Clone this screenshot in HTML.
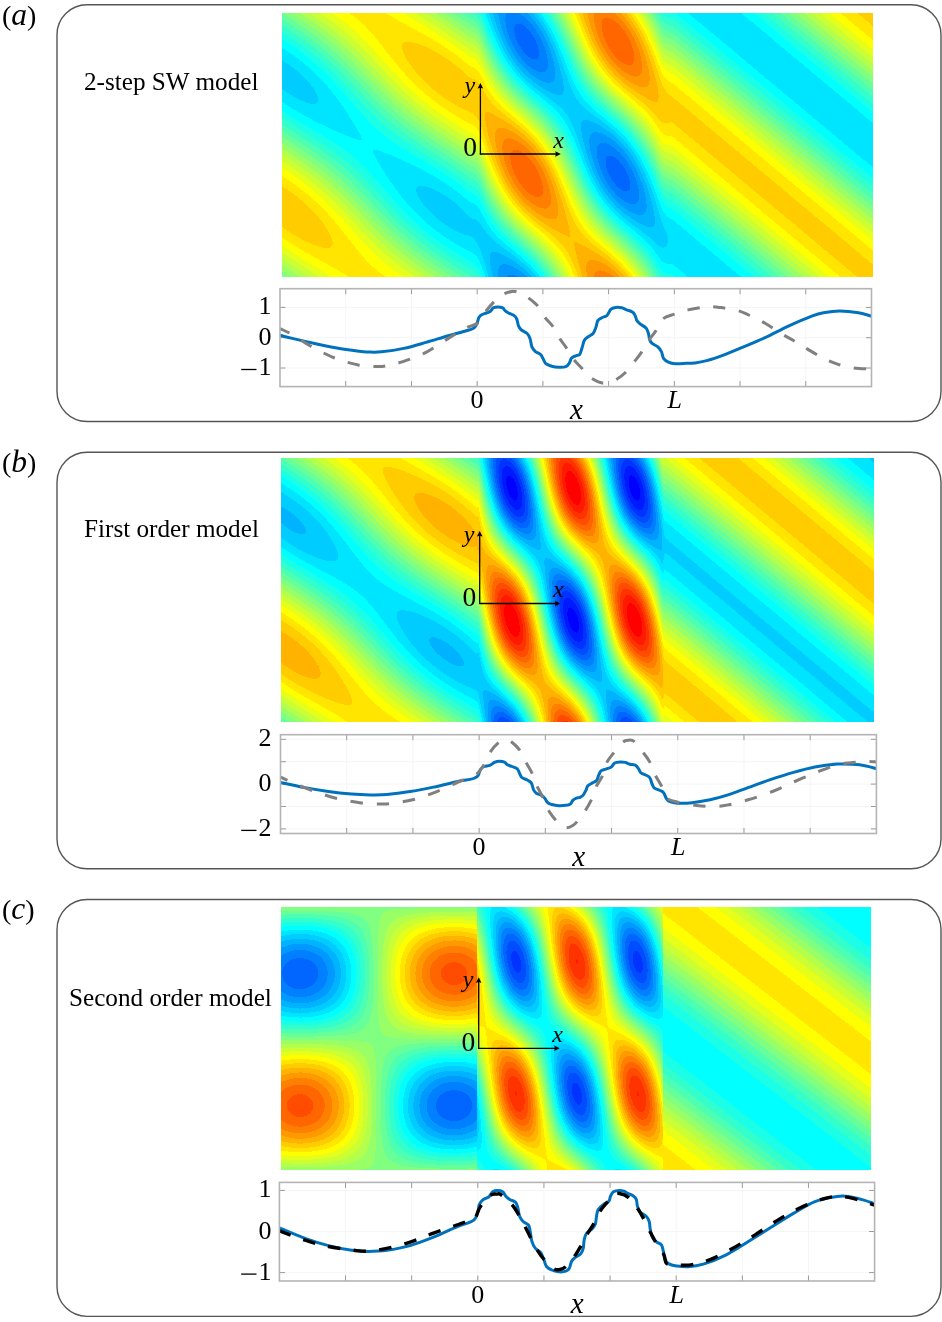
<!DOCTYPE html>
<html><head><meta charset="utf-8">
<style>
html,body{margin:0;padding:0;background:#fff;width:942px;height:1322px;overflow:hidden;}
body{position:relative;font-family:"Liberation Serif",serif;color:#000;}
.t{position:absolute;white-space:nowrap;line-height:1;}
canvas{position:absolute;display:block;}
svg{position:absolute;left:0;top:0;}
.lbl{font-size:31.5px;}
.pp{font-size:28px;}
.mdl{font-size:25.2px;}
#fa{background-image:linear-gradient(#80ff80 0px,#4dffb3 11px,#1affe5 22px,#00ffff 33px,#00e5ff 44px,#00ccff 55px,#00ccff 66px,#00ccff 77px,#00e5ff 88px,#00ffff 99px,#33ffcc 110px,#66ff99 121px,#99ff66 132px,#b3ff4c 143px,#e5ff1a 154px,#ffff00 165px,#ffcc00 176px,#ffcc00 187px,#ffcc00 198px,#ffcc00 209px,#ffe500 220px,#ffff00 231px,#ccff33 242px,#b3ff4c 253px,#80ff80 263px),linear-gradient(#99ff66 0px,#66ff99 11px,#33ffcc 22px,#1affe5 33px,#00e5ff 44px,#00e5ff 55px,#00ccff 66px,#00ccff 77px,#00e5ff 88px,#00ffff 99px,#1affe5 110px,#4dffb3 121px,#80ff80 132px,#99ff66 143px,#ccff33 154px,#ffff00 165px,#ffe500 176px,#ffcc00 187px,#ffcc00 198px,#ffcc00 209px,#ffcc00 220px,#ffe500 231px,#e5ff1a 242px,#ccff33 253px,#99ff66 263px),linear-gradient(#b3ff4c 0px,#80ff80 11px,#4dffb3 22px,#1affe5 33px,#00ffff 44px,#00e5ff 55px,#00ccff 66px,#00ccff 77px,#00e5ff 88px,#00e5ff 99px,#00ffff 110px,#33ffcc 121px,#66ff99 132px,#99ff66 143px,#b3ff4c 154px,#e5ff1a 165px,#ffff00 176px,#ffe500 187px,#ffcc00 198px,#ffcc00 209px,#ffcc00 220px,#ffe500 231px,#ffff00 242px,#ccff33 253px,#b3ff4c 263px),linear-gradient(#ccff33 0px,#99ff66 11px,#66ff99 22px,#33ffcc 33px,#1affe5 44px,#00ffff 55px,#00e5ff 66px,#00ccff 77px,#00ccff 88px,#00e5ff 99px,#00ffff 110px,#1affe5 121px,#4dffb3 132px,#80ff80 143px,#99ff66 154px,#ccff33 165px,#ffff00 176px,#ffe500 187px,#ffcc00 198px,#ffcc00 209px,#ffcc00 220px,#ffe500 231px,#ffff00 242px,#e5ff1a 253px,#ccff33 263px),linear-gradient(#ccff33 0px,#b3ff4c 11px,#80ff80 22px,#4dffb3 33px,#33ffcc 44px,#00ffff 55px,#00e5ff 66px,#00e5ff 77px,#00e5ff 88px,#00e5ff 99px,#00ffff 110px,#1affe5 121px,#33ffcc 132px,#66ff99 143px,#80ff80 154px,#b3ff4c 165px,#e5ff1a 176px,#ffff00 187px,#ffe500 198px,#ffcc00 209px,#ffcc00 220px,#ffcc00 231px,#ffe500 242px,#ffff00 253px,#ccff33 263px),linear-gradient(#e5ff1a 0px,#ccff33 11px,#99ff66 22px,#66ff99 33px,#4dffb3 44px,#1affe5 55px,#00ffff 66px,#00e5ff 77px,#00e5ff 88px,#00e5ff 99px,#00e5ff 110px,#00ffff 121px,#1affe5 132px,#4dffb3 143px,#66ff99 154px,#99ff66 165px,#ccff33 176px,#e5ff1a 187px,#ffff00 198px,#ffe500 209px,#ffcc00 220px,#ffcc00 231px,#ffe500 242px,#ffff00 253px,#e5ff1a 263px),linear-gradient(#ffff00 0px,#ccff33 11px,#b3ff4c 22px,#80ff80 33px,#66ff99 44px,#33ffcc 55px,#1affe5 66px,#00ffff 77px,#00e5ff 88px,#00e5ff 99px,#00e5ff 110px,#00ffff 121px,#1affe5 132px,#33ffcc 143px,#66ff99 154px,#80ff80 165px,#b3ff4c 176px,#ccff33 187px,#ffff00 198px,#ffe500 209px,#ffe500 220px,#ffe500 231px,#ffe500 242px,#ffe500 253px,#ffff00 263px),linear-gradient(#ffff00 0px,#e5ff1a 11px,#ccff33 22px,#99ff66 33px,#80ff80 44px,#4dffb3 55px,#33ffcc 66px,#1affe5 77px,#00ffff 88px,#00e5ff 99px,#00e5ff 110px,#00ffff 121px,#00ffff 132px,#1affe5 143px,#4dffb3 154px,#66ff99 165px,#99ff66 176px,#b3ff4c 187px,#e5ff1a 198px,#ffff00 209px,#ffe500 220px,#ffe500 231px,#ffe500 242px,#ffe500 253px,#ffff00 263px),linear-gradient(#ffe500 0px,#ffff00 11px,#e5ff1a 22px,#b3ff4c 33px,#99ff66 44px,#66ff99 55px,#4dffb3 66px,#1affe5 77px,#00ffff 88px,#00ffff 99px,#00e5ff 110px,#00e5ff 121px,#00ffff 132px,#1affe5 143px,#33ffcc 154px,#4dffb3 165px,#80ff80 176px,#99ff66 187px,#ccff33 198px,#e5ff1a 209px,#ffff00 220px,#ffe500 231px,#ffe500 242px,#ffe500 253px,#ffe500 263px),linear-gradient(#ffe500 0px,#ffff00 11px,#e5ff1a 22px,#ccff33 33px,#b3ff4c 44px,#80ff80 55px,#66ff99 66px,#33ffcc 77px,#1affe5 88px,#00ffff 99px,#00ffff 110px,#00e5ff 121px,#00ffff 132px,#00ffff 143px,#1affe5 154px,#33ffcc 165px,#66ff99 176px,#80ff80 187px,#b3ff4c 198px,#ccff33 209px,#e5ff1a 220px,#ffff00 231px,#ffe500 242px,#ffe500 253px,#ffe500 263px),linear-gradient(#ffe500 0px,#ffe500 11px,#ffff00 22px,#e5ff1a 33px,#ccff33 44px,#99ff66 55px,#80ff80 66px,#66ff99 77px,#33ffcc 88px,#1affe5 99px,#00ffff 110px,#00ffff 121px,#00ffff 132px,#00ffff 143px,#00ffff 154px,#1affe5 165px,#4dffb3 176px,#66ff99 187px,#80ff80 198px,#b3ff4c 209px,#ccff33 220px,#e5ff1a 231px,#ffff00 242px,#ffe500 253px,#ffe500 263px),linear-gradient(#ffe500 0px,#ffe500 11px,#ffe500 22px,#ffff00 33px,#e5ff1a 44px,#ccff33 55px,#99ff66 66px,#80ff80 77px,#4dffb3 88px,#33ffcc 99px,#1affe5 110px,#00ffff 121px,#00ffff 132px,#00ffff 143px,#00ffff 154px,#1affe5 165px,#33ffcc 176px,#4dffb3 187px,#66ff99 198px,#99ff66 209px,#b3ff4c 220px,#e5ff1a 231px,#ffff00 242px,#ffff00 253px,#ffe500 263px),linear-gradient(#ffe500 0px,#ffe500 11px,#ffe500 22px,#ffff00 33px,#ffff00 44px,#e5ff1a 55px,#b3ff4c 66px,#99ff66 77px,#66ff99 88px,#4dffb3 99px,#1affe5 110px,#00ffff 121px,#00ffff 132px,#00e5ff 143px,#00e5ff 154px,#00ffff 165px,#1affe5 176px,#33ffcc 187px,#4dffb3 198px,#80ff80 209px,#99ff66 220px,#ccff33 231px,#e5ff1a 242px,#ffff00 253px,#ffe500 263px),linear-gradient(#ffff00 0px,#ffe500 11px,#ffe500 22px,#ffe500 33px,#ffff00 44px,#ffff00 55px,#ccff33 66px,#b3ff4c 77px,#80ff80 88px,#66ff99 99px,#33ffcc 110px,#1affe5 121px,#00ffff 132px,#00e5ff 143px,#00e5ff 154px,#00e5ff 165px,#00ffff 176px,#1affe5 187px,#33ffcc 198px,#66ff99 209px,#80ff80 220px,#b3ff4c 231px,#ccff33 242px,#e5ff1a 253px,#ffff00 263px),linear-gradient(#ffff00 0px,#ffe500 11px,#ffe500 22px,#ffe500 33px,#ffe500 44px,#ffff00 55px,#e5ff1a 66px,#ccff33 77px,#99ff66 88px,#80ff80 99px,#4dffb3 110px,#33ffcc 121px,#1affe5 132px,#00ffff 143px,#00e5ff 154px,#00e5ff 165px,#00e5ff 176px,#00ffff 187px,#1affe5 198px,#33ffcc 209px,#66ff99 220px,#99ff66 231px,#b3ff4c 242px,#e5ff1a 253px,#ffff00 263px),linear-gradient(#e5ff1a 0px,#ffff00 11px,#ffe500 22px,#ffcc00 33px,#ffcc00 44px,#ffe500 55px,#ffff00 66px,#e5ff1a 77px,#b3ff4c 88px,#99ff66 99px,#66ff99 110px,#4dffb3 121px,#1affe5 132px,#00ffff 143px,#00e5ff 154px,#00e5ff 165px,#00e5ff 176px,#00e5ff 187px,#00ffff 198px,#1affe5 209px,#4dffb3 220px,#80ff80 231px,#99ff66 242px,#ccff33 253px,#e5ff1a 263px),linear-gradient(#e5ff1a 0px,#ffff00 11px,#ffe500 22px,#ffcc00 33px,#ffcc00 44px,#ffcc00 55px,#ffe500 66px,#ffff00 77px,#ccff33 88px,#b3ff4c 99px,#80ff80 110px,#4dffb3 121px,#33ffcc 132px,#00ffff 143px,#00e5ff 154px,#00e5ff 165px,#00e5ff 176px,#00e5ff 187px,#00ffff 198px,#1affe5 209px,#33ffcc 220px,#66ff99 231px,#80ff80 242px,#b3ff4c 253px,#e5ff1a 263px),linear-gradient(#ccff33 0px,#e5ff1a 11px,#ffe500 22px,#ffcc00 33px,#ffcc00 44px,#ffcc00 55px,#ffe500 66px,#ffe500 77px,#e5ff1a 88px,#ccff33 99px,#99ff66 110px,#66ff99 121px,#4dffb3 132px,#1affe5 143px,#00ffff 154px,#00e5ff 165px,#00ccff 176px,#00ccff 187px,#00e5ff 198px,#00ffff 209px,#1affe5 220px,#4dffb3 231px,#66ff99 242px,#99ff66 253px,#ccff33 263px),linear-gradient(#b3ff4c 0px,#e5ff1a 11px,#ffff00 22px,#ffe500 33px,#ffcc00 44px,#ffcc00 55px,#ffcc00 66px,#ffe500 77px,#ffff00 88px,#e5ff1a 99px,#b3ff4c 110px,#80ff80 121px,#4dffb3 132px,#33ffcc 143px,#00ffff 154px,#00e5ff 165px,#00ccff 176px,#00ccff 187px,#00ccff 198px,#00e5ff 209px,#00ffff 220px,#33ffcc 231px,#4dffb3 242px,#80ff80 253px,#b3ff4c 263px),linear-gradient(#99ff66 0px,#ccff33 11px,#ffff00 22px,#ffe500 33px,#ffcc00 44px,#ffcc00 55px,#ffcc00 66px,#ffcc00 77px,#ffe500 88px,#e5ff1a 99px,#ccff33 110px,#99ff66 121px,#66ff99 132px,#33ffcc 143px,#1affe5 154px,#00ffff 165px,#00e5ff 176px,#00ccff 187px,#00ccff 198px,#00e5ff 209px,#00ffff 220px,#1affe5 231px,#4dffb3 242px,#66ff99 253px,#99ff66 263px),linear-gradient(#80ff80 0px,#b3ff4c 11px,#e5ff1a 22px,#ffff00 33px,#ffe500 44px,#ffcc00 55px,#ffcc00 66px,#ffcc00 77px,#ffe500 88px,#ffff00 99px,#e5ff1a 110px,#b3ff4c 121px,#80ff80 132px,#4dffb3 143px,#33ffcc 154px,#00ffff 165px,#00e5ff 176px,#00ccff 187px,#00ccff 198px,#00ccff 209px,#00e5ff 220px,#00ffff 231px,#33ffcc 242px,#4dffb3 253px,#80ff80 263px),linear-gradient(#66ff99 0px,#99ff66 11px,#ccff33 22px,#ffff00 33px,#ffe500 44px,#ffcc00 55px,#ffcc00 66px,#ffcc00 77px,#ffcc00 88px,#ffe500 99px,#e5ff1a 110px,#ccff33 121px,#99ff66 132px,#66ff99 143px,#33ffcc 154px,#1affe5 165px,#00ffff 176px,#00e5ff 187px,#00ccff 198px,#00ccff 209px,#00e5ff 220px,#00ffff 231px,#1affe5 242px,#4dffb3 253px,#66ff99 263px),linear-gradient(#66ff99 0px,#80ff80 11px,#b3ff4c 22px,#e5ff1a 33px,#ffff00 44px,#ffe500 55px,#ffcc00 66px,#ffcc00 77px,#ffcc00 88px,#ffe500 99px,#ffff00 110px,#e5ff1a 121px,#b3ff4c 132px,#80ff80 143px,#4dffb3 154px,#33ffcc 165px,#00ffff 176px,#00e5ff 187px,#00ccff 198px,#00ccff 209px,#00ccff 220px,#00e5ff 231px,#00ffff 242px,#33ffcc 253px,#4dffb3 263px),linear-gradient(#4dffb3 0px,#66ff99 11px,#99ff66 22px,#ccff33 33px,#e5ff1a 44px,#ffe500 55px,#ffcc00 66px,#ffcc00 77px,#ffcc00 88px,#ffe500 99px,#ffe500 110px,#e5ff1a 121px,#ccff33 132px,#99ff66 143px,#66ff99 154px,#33ffcc 165px,#1affe5 176px,#00ffff 187px,#00e5ff 198px,#00ccff 209px,#00ccff 220px,#00e5ff 231px,#00ffff 242px,#1affe5 253px,#4dffb3 263px),linear-gradient(#33ffcc 0px,#4dffb3 11px,#80ff80 22px,#b3ff4c 33px,#e5ff1a 44px,#ffff00 55px,#ffe500 66px,#ffcc00 77px,#ffcc00 88px,#ffcc00 99px,#ffe500 110px,#ffff00 121px,#e5ff1a 132px,#b3ff4c 143px,#80ff80 154px,#4dffb3 165px,#33ffcc 176px,#00ffff 187px,#00e5ff 198px,#00ccff 209px,#00ccff 220px,#00ccff 231px,#00e5ff 242px,#00ffff 253px,#33ffcc 263px),linear-gradient(#00e5ff 0px,#00ffff 11px,#33ffcc 22px,#66ff99 33px,#99ff66 44px,#ccff33 55px,#ffff00 66px,#ffe500 77px,#ffcc00 88px,#ffb300 99px,#ffb300 110px,#ffcc00 121px,#ffe500 132px,#ffff00 143px,#ccff33 154px,#99ff66 165px,#66ff99 176px,#4dffb3 187px,#1affe5 198px,#00e5ff 209px,#00ccff 220px,#00ccff 231px,#00ccff 242px,#00ccff 253px,#00e5ff 263px),linear-gradient(#00b3ff 0px,#00ccff 11px,#00e5ff 22px,#1affe5 33px,#4dffb3 44px,#80ff80 55px,#b3ff4c 66px,#e5ff1a 77px,#ffe500 88px,#ffcc00 99px,#ffb300 110px,#ffb300 121px,#ffb300 132px,#ffcc00 143px,#ffe500 154px,#e5ff1a 165px,#b3ff4c 176px,#80ff80 187px,#4dffb3 198px,#1affe5 209px,#00e5ff 220px,#00ccff 231px,#00b3ff 242px,#00b3ff 253px,#00b3ff 263px),linear-gradient(#0099ff 0px,#0099ff 11px,#00b3ff 22px,#00ccff 33px,#00ffff 44px,#33ffcc 55px,#80ff80 66px,#b3ff4c 77px,#e5ff1a 88px,#ffe500 99px,#ffb300 110px,#ff9900 121px,#ff8000 132px,#ff9900 143px,#ffb300 154px,#ffcc00 165px,#ffff00 176px,#ccff33 187px,#99ff66 198px,#4dffb3 209px,#1affe5 220px,#00e5ff 231px,#00b3ff 242px,#0099ff 253px,#0099ff 263px),linear-gradient(#0080ff 0px,#0080ff 11px,#0080ff 22px,#0099ff 33px,#00ccff 44px,#00ffff 55px,#33ffcc 66px,#80ff80 77px,#ccff33 88px,#ffff00 99px,#ffcc00 110px,#ff9900 121px,#ff8000 132px,#ff6600 143px,#ff8000 154px,#ff9900 165px,#ffb300 176px,#ffe500 187px,#ccff33 198px,#80ff80 209px,#4dffb3 220px,#00ffff 231px,#00ccff 242px,#0099ff 253px,#0080ff 263px),linear-gradient(#0080ff 0px,#0066ff 11px,#0066ff 22px,#0080ff 33px,#0099ff 44px,#00ccff 55px,#00ffff 66px,#4dffb3 77px,#99ff66 88px,#ccff33 99px,#ffe500 110px,#ffb300 121px,#ff8000 132px,#ff6600 143px,#ff6600 154px,#ff6600 165px,#ff8000 176px,#ffb300 187px,#ffff00 198px,#ccff33 209px,#80ff80 220px,#33ffcc 231px,#00e5ff 242px,#00b3ff 253px,#0099ff 263px),linear-gradient(#0099ff 0px,#0080ff 11px,#0066ff 22px,#0066ff 33px,#0080ff 44px,#0099ff 55px,#00ccff 66px,#1affe5 77px,#66ff99 88px,#b3ff4c 99px,#e5ff1a 110px,#ffcc00 121px,#ff9900 132px,#ff6600 143px,#ff6600 154px,#ff6600 165px,#ff6600 176px,#ff9900 187px,#ffcc00 198px,#ffff00 209px,#b3ff4c 220px,#66ff99 231px,#1affe5 242px,#00ccff 253px,#0099ff 263px),linear-gradient(#00ccff 0px,#0099ff 11px,#0080ff 22px,#0066ff 33px,#0066ff 44px,#0080ff 55px,#00b3ff 66px,#00e5ff 77px,#33ffcc 88px,#80ff80 99px,#b3ff4c 110px,#ffff00 121px,#ffb300 132px,#ff9900 143px,#ff6600 154px,#ff6600 165px,#ff6600 176px,#ff8000 187px,#ffb300 198px,#ffe500 209px,#e5ff1a 220px,#99ff66 231px,#4dffb3 242px,#00ffff 253px,#00ccff 263px),linear-gradient(#00ffff 0px,#00ccff 11px,#0099ff 22px,#0080ff 33px,#0080ff 44px,#0080ff 55px,#0099ff 66px,#00ccff 77px,#00ffff 88px,#4dffb3 99px,#80ff80 110px,#ccff33 121px,#ffff00 132px,#ffb300 143px,#ff9900 154px,#ff8000 165px,#ff6600 176px,#ff8000 187px,#ff9900 198px,#ffcc00 209px,#ffff00 220px,#ccff33 231px,#80ff80 242px,#33ffcc 253px,#00ffff 263px),linear-gradient(#33ffcc 0px,#00ffff 11px,#00ccff 22px,#00b3ff 33px,#0099ff 44px,#0099ff 55px,#0099ff 66px,#00b3ff 77px,#00e5ff 88px,#1affe5 99px,#4dffb3 110px,#99ff66 121px,#ccff33 132px,#ffff00 143px,#ffcc00 154px,#ffb300 165px,#ff9900 176px,#ff8000 187px,#ff9900 198px,#ffb300 209px,#ffcc00 220px,#ffff00 231px,#b3ff4c 242px,#80ff80 253px,#4dffb3 263px),linear-gradient(#80ff80 0px,#4dffb3 11px,#1affe5 22px,#00e5ff 33px,#00ccff 44px,#00b3ff 55px,#00b3ff 66px,#00b3ff 77px,#00ccff 88px,#00e5ff 99px,#1affe5 110px,#4dffb3 121px,#80ff80 132px,#b3ff4c 143px,#e5ff1a 154px,#ffe500 165px,#ffcc00 176px,#ffb300 187px,#ffb300 198px,#ffb300 209px,#ffcc00 220px,#ffe500 231px,#e5ff1a 242px,#b3ff4c 253px,#80ff80 263px),linear-gradient(#ccff33 0px,#99ff66 11px,#66ff99 22px,#33ffcc 33px,#00ffff 44px,#00e5ff 55px,#00ccff 66px,#00ccff 77px,#00ccff 88px,#00ccff 99px,#00e5ff 110px,#1affe5 121px,#4dffb3 132px,#66ff99 143px,#99ff66 154px,#ccff33 165px,#ffff00 176px,#ffe500 187px,#ffcc00 198px,#ffb300 209px,#ffb300 220px,#ffcc00 231px,#ffe500 242px,#ffff00 253px,#ccff33 263px),linear-gradient(#ffff00 0px,#e5ff1a 11px,#b3ff4c 22px,#80ff80 33px,#4dffb3 44px,#33ffcc 55px,#00ffff 66px,#00e5ff 77px,#00ccff 88px,#00ccff 99px,#00ccff 110px,#00e5ff 121px,#00ffff 132px,#33ffcc 143px,#4dffb3 154px,#80ff80 165px,#b3ff4c 176px,#e5ff1a 187px,#ffff00 198px,#ffcc00 209px,#ffcc00 220px,#ffb300 231px,#ffcc00 242px,#ffcc00 253px,#ffff00 263px),linear-gradient(#ffcc00 0px,#ffe500 11px,#ffff00 22px,#ccff33 33px,#99ff66 44px,#66ff99 55px,#33ffcc 66px,#00ffff 77px,#00e5ff 88px,#00ccff 99px,#00b3ff 110px,#00b3ff 121px,#00ccff 132px,#00e5ff 143px,#00ffff 154px,#33ffcc 165px,#66ff99 176px,#99ff66 187px,#ccff33 198px,#ffff00 209px,#ffe500 220px,#ffcc00 231px,#ffb300 242px,#ffb300 253px,#ffb300 263px),linear-gradient(#ff9900 0px,#ff9900 11px,#ffb300 22px,#ffe500 33px,#e5ff1a 44px,#b3ff4c 55px,#80ff80 66px,#33ffcc 77px,#00ffff 88px,#00e5ff 99px,#00b3ff 110px,#00b3ff 121px,#0099ff 132px,#00b3ff 143px,#00ccff 154px,#00e5ff 165px,#1affe5 176px,#4dffb3 187px,#99ff66 198px,#ccff33 209px,#ffff00 220px,#ffcc00 231px,#ffb300 242px,#ff9900 253px,#ff9900 263px),linear-gradient(#ff8000 0px,#ff8000 11px,#ff8000 22px,#ffb300 33px,#ffcc00 44px,#ffff00 55px,#b3ff4c 66px,#80ff80 77px,#33ffcc 88px,#00ffff 99px,#00ccff 110px,#0099ff 121px,#0080ff 132px,#0080ff 143px,#0099ff 154px,#00b3ff 165px,#00e5ff 176px,#1affe5 187px,#4dffb3 198px,#99ff66 209px,#ccff33 220px,#ffe500 231px,#ffb300 242px,#ff9900 253px,#ff8000 263px),linear-gradient(#ff8000 0px,#ff6600 11px,#ff6600 22px,#ff8000 33px,#ff9900 44px,#ffcc00 55px,#e5ff1a 66px,#b3ff4c 77px,#66ff99 88px,#1affe5 99px,#00e5ff 110px,#00b3ff 121px,#0080ff 132px,#0080ff 143px,#0066ff 154px,#0080ff 165px,#00b3ff 176px,#00e5ff 187px,#1affe5 198px,#66ff99 209px,#99ff66 220px,#e5ff1a 231px,#ffcc00 242px,#ff9900 253px,#ff8000 263px),linear-gradient(#ff8000 0px,#ff6600 11px,#ff6600 22px,#ff6600 33px,#ff8000 44px,#ff9900 55px,#ffe500 66px,#e5ff1a 77px,#99ff66 88px,#4dffb3 99px,#00ffff 110px,#00ccff 121px,#0099ff 132px,#0080ff 143px,#0066ff 154px,#0066ff 165px,#0080ff 176px,#00b3ff 187px,#00e5ff 198px,#33ffcc 209px,#66ff99 220px,#b3ff4c 231px,#ffff00 242px,#ffb300 253px,#ff9900 263px),linear-gradient(#ffb300 0px,#ff8000 11px,#ff6600 22px,#ff6600 33px,#ff6600 44px,#ff8000 55px,#ffb300 66px,#ffe500 77px,#ccff33 88px,#80ff80 99px,#33ffcc 110px,#00e5ff 121px,#00b3ff 132px,#0080ff 143px,#0066ff 154px,#0066ff 165px,#0066ff 176px,#0099ff 187px,#00b3ff 198px,#00ffff 209px,#33ffcc 220px,#80ff80 231px,#ccff33 242px,#ffe500 253px,#ffb300 263px),linear-gradient(#ffe500 0px,#ffb300 11px,#ff8000 22px,#ff6600 33px,#ff6600 44px,#ff8000 55px,#ff9900 66px,#ffcc00 77px,#ffff00 88px,#b3ff4c 99px,#66ff99 110px,#1affe5 121px,#00e5ff 132px,#00b3ff 143px,#0080ff 154px,#0080ff 165px,#0080ff 176px,#0080ff 187px,#0099ff 198px,#00ccff 209px,#1affe5 220px,#4dffb3 231px,#99ff66 242px,#e5ff1a 253px,#ffe500 263px),linear-gradient(#e5ff1a 0px,#ffe500 11px,#ffb300 22px,#ff9900 33px,#ff8000 44px,#ff8000 55px,#ff9900 66px,#ffb300 77px,#ffe500 88px,#e5ff1a 99px,#99ff66 110px,#66ff99 121px,#1affe5 132px,#00e5ff 143px,#00b3ff 154px,#0099ff 165px,#0080ff 176px,#0099ff 187px,#0099ff 198px,#00b3ff 209px,#00e5ff 220px,#33ffcc 231px,#66ff99 242px,#b3ff4c 253px,#e5ff1a 263px),linear-gradient(#99ff66 0px,#e5ff1a 11px,#ffe500 22px,#ffcc00 33px,#ffb300 44px,#ff9900 55px,#ff9900 66px,#ffb300 77px,#ffcc00 88px,#ffff00 99px,#ccff33 110px,#99ff66 121px,#66ff99 132px,#33ffcc 143px,#00ffff 154px,#00ccff 165px,#00b3ff 176px,#00b3ff 187px,#00b3ff 198px,#00b3ff 209px,#00ccff 220px,#00ffff 231px,#33ffcc 242px,#66ff99 253px,#99ff66 263px),linear-gradient(#66ff99 0px,#99ff66 11px,#ccff33 22px,#e5ff1a 33px,#ffe500 44px,#ffcc00 55px,#ffb300 66px,#ffb300 77px,#ffb300 88px,#ffcc00 99px,#ffff00 110px,#e5ff1a 121px,#b3ff4c 132px,#80ff80 143px,#4dffb3 154px,#1affe5 165px,#00e5ff 176px,#00ccff 187px,#00ccff 198px,#00b3ff 209px,#00ccff 220px,#00e5ff 231px,#00ffff 242px,#33ffcc 253px,#4dffb3 263px),linear-gradient(#1affe5 0px,#4dffb3 11px,#80ff80 22px,#b3ff4c 33px,#ccff33 44px,#ffff00 55px,#ffe500 66px,#ffcc00 77px,#ffcc00 88px,#ffcc00 99px,#ffe500 110px,#ffff00 121px,#e5ff1a 132px,#b3ff4c 143px,#99ff66 154px,#66ff99 165px,#33ffcc 176px,#1affe5 187px,#00e5ff 198px,#00e5ff 209px,#00ccff 220px,#00ccff 231px,#00e5ff 242px,#00ffff 253px,#1affe5 263px),linear-gradient(#1affe5 0px,#33ffcc 11px,#66ff99 22px,#99ff66 33px,#b3ff4c 44px,#e5ff1a 55px,#ffff00 66px,#ffe500 77px,#ffcc00 88px,#ffcc00 99px,#ffe500 110px,#ffe500 121px,#e5ff1a 132px,#ccff33 143px,#99ff66 154px,#80ff80 165px,#4dffb3 176px,#1affe5 187px,#00ffff 198px,#00e5ff 209px,#00e5ff 220px,#00e5ff 231px,#00e5ff 242px,#00ffff 253px,#1affe5 263px),linear-gradient(#00ffff 0px,#33ffcc 11px,#4dffb3 22px,#80ff80 33px,#b3ff4c 44px,#ccff33 55px,#ffff00 66px,#ffe500 77px,#ffe500 88px,#ffcc00 99px,#ffcc00 110px,#ffe500 121px,#ffff00 132px,#e5ff1a 143px,#b3ff4c 154px,#99ff66 165px,#66ff99 176px,#33ffcc 187px,#1affe5 198px,#00ffff 209px,#00e5ff 220px,#00e5ff 231px,#00e5ff 242px,#00e5ff 253px,#00ffff 263px),linear-gradient(#00ffff 0px,#1affe5 11px,#33ffcc 22px,#66ff99 33px,#99ff66 44px,#b3ff4c 55px,#e5ff1a 66px,#ffff00 77px,#ffe500 88px,#ffcc00 99px,#ffcc00 110px,#ffe500 121px,#ffe500 132px,#ffff00 143px,#ccff33 154px,#b3ff4c 165px,#80ff80 176px,#4dffb3 187px,#33ffcc 198px,#00ffff 209px,#00e5ff 220px,#00e5ff 231px,#00e5ff 242px,#00e5ff 253px,#00ffff 263px),linear-gradient(#00e5ff 0px,#00ffff 11px,#1affe5 22px,#4dffb3 33px,#66ff99 44px,#99ff66 55px,#ccff33 66px,#e5ff1a 77px,#ffe500 88px,#ffe500 99px,#ffcc00 110px,#ffcc00 121px,#ffe500 132px,#ffff00 143px,#e5ff1a 154px,#ccff33 165px,#99ff66 176px,#66ff99 187px,#4dffb3 198px,#1affe5 209px,#00ffff 220px,#00e5ff 231px,#00e5ff 242px,#00e5ff 253px,#00e5ff 263px),linear-gradient(#00e5ff 0px,#00e5ff 11px,#00ffff 22px,#33ffcc 33px,#4dffb3 44px,#80ff80 55px,#b3ff4c 66px,#ccff33 77px,#ffff00 88px,#ffe500 99px,#ffcc00 110px,#ffcc00 121px,#ffcc00 132px,#ffe500 143px,#ffff00 154px,#e5ff1a 165px,#b3ff4c 176px,#80ff80 187px,#66ff99 198px,#33ffcc 209px,#1affe5 220px,#00ffff 231px,#00e5ff 242px,#00e5ff 253px,#00e5ff 263px),linear-gradient(#00e5ff 0px,#00e5ff 11px,#00ffff 22px,#1affe5 33px,#33ffcc 44px,#66ff99 55px,#99ff66 66px,#b3ff4c 77px,#e5ff1a 88px,#ffff00 99px,#ffe500 110px,#ffcc00 121px,#ffcc00 132px,#ffe500 143px,#ffe500 154px,#e5ff1a 165px,#ccff33 176px,#99ff66 187px,#80ff80 198px,#4dffb3 209px,#1affe5 220px,#00ffff 231px,#00e5ff 242px,#00e5ff 253px,#00e5ff 263px),linear-gradient(#00e5ff 0px,#00e5ff 11px,#00e5ff 22px,#00ffff 33px,#33ffcc 44px,#4dffb3 55px,#80ff80 66px,#99ff66 77px,#ccff33 88px,#ffff00 99px,#ffe500 110px,#ffe500 121px,#ffcc00 132px,#ffcc00 143px,#ffe500 154px,#ffff00 165px,#e5ff1a 176px,#b3ff4c 187px,#99ff66 198px,#66ff99 209px,#33ffcc 220px,#1affe5 231px,#00ffff 242px,#00e5ff 253px,#00e5ff 263px),linear-gradient(#00e5ff 0px,#00e5ff 11px,#00e5ff 22px,#00ffff 33px,#1affe5 44px,#33ffcc 55px,#66ff99 66px,#80ff80 77px,#b3ff4c 88px,#e5ff1a 99px,#ffff00 110px,#ffe500 121px,#ffcc00 132px,#ffcc00 143px,#ffcc00 154px,#ffe500 165px,#ffff00 176px,#ccff33 187px,#b3ff4c 198px,#80ff80 209px,#4dffb3 220px,#33ffcc 231px,#00ffff 242px,#00e5ff 253px,#00e5ff 263px),linear-gradient(#00e5ff 0px,#00e5ff 11px,#00e5ff 22px,#00e5ff 33px,#00ffff 44px,#1affe5 55px,#4dffb3 66px,#66ff99 77px,#99ff66 88px,#ccff33 99px,#e5ff1a 110px,#ffff00 121px,#ffe500 132px,#ffcc00 143px,#ffcc00 154px,#ffe500 165px,#ffff00 176px,#e5ff1a 187px,#ccff33 198px,#99ff66 209px,#66ff99 220px,#4dffb3 231px,#1affe5 242px,#00ffff 253px,#00e5ff 263px),linear-gradient(#00ffff 0px,#00e5ff 11px,#00e5ff 22px,#00e5ff 33px,#00e5ff 44px,#00ffff 55px,#33ffcc 66px,#4dffb3 77px,#80ff80 88px,#b3ff4c 99px,#ccff33 110px,#ffff00 121px,#ffe500 132px,#ffcc00 143px,#ffcc00 154px,#ffcc00 165px,#ffe500 176px,#ffff00 187px,#e5ff1a 198px,#b3ff4c 209px,#80ff80 220px,#66ff99 231px,#33ffcc 242px,#1affe5 253px,#00ffff 263px),linear-gradient(#00ffff 0px,#00e5ff 11px,#00e5ff 22px,#00e5ff 33px,#00e5ff 44px,#00ffff 55px,#1affe5 66px,#33ffcc 77px,#66ff99 88px,#99ff66 99px,#b3ff4c 110px,#e5ff1a 121px,#ffff00 132px,#ffe500 143px,#ffcc00 154px,#ffcc00 165px,#ffe500 176px,#ffe500 187px,#e5ff1a 198px,#ccff33 209px,#99ff66 220px,#80ff80 231px,#4dffb3 242px,#1affe5 253px,#00ffff 263px),linear-gradient(#1affe5 0px,#00ffff 11px,#00e5ff 22px,#00e5ff 33px,#00e5ff 44px,#00e5ff 55px,#00ffff 66px,#1affe5 77px,#4dffb3 88px,#80ff80 99px,#99ff66 110px,#ccff33 121px,#ffff00 132px,#ffe500 143px,#ffe500 154px,#ffcc00 165px,#ffcc00 176px,#ffe500 187px,#ffff00 198px,#e5ff1a 209px,#b3ff4c 220px,#99ff66 231px,#66ff99 242px,#33ffcc 253px,#1affe5 263px),linear-gradient(#33ffcc 0px,#00ffff 11px,#00e5ff 22px,#00e5ff 33px,#00e5ff 44px,#00e5ff 55px,#00ffff 66px,#1affe5 77px,#33ffcc 88px,#66ff99 99px,#80ff80 110px,#b3ff4c 121px,#e5ff1a 132px,#ffff00 143px,#ffe500 154px,#ffcc00 165px,#ffcc00 176px,#ffcc00 187px,#ffe500 198px,#ffff00 209px,#ccff33 220px,#b3ff4c 231px,#80ff80 242px,#4dffb3 253px,#33ffcc 263px),linear-gradient(#4dffb3 0px,#1affe5 11px,#00ffff 22px,#00e5ff 33px,#00e5ff 44px,#00e5ff 55px,#00e5ff 66px,#00ffff 77px,#1affe5 88px,#4dffb3 99px,#66ff99 110px,#99ff66 121px,#ccff33 132px,#e5ff1a 143px,#ffff00 154px,#ffe500 165px,#ffcc00 176px,#ffcc00 187px,#ffe500 198px,#ffff00 209px,#e5ff1a 220px,#ccff33 231px,#99ff66 242px,#66ff99 253px,#4dffb3 263px),linear-gradient(#66ff99 0px,#33ffcc 11px,#1affe5 22px,#00ffff 33px,#00e5ff 44px,#00e5ff 55px,#00e5ff 66px,#00e5ff 77px,#00ffff 88px,#33ffcc 99px,#4dffb3 110px,#80ff80 121px,#b3ff4c 132px,#ccff33 143px,#ffff00 154px,#ffe500 165px,#ffcc00 176px,#ffcc00 187px,#ffcc00 198px,#ffe500 209px,#ffff00 220px,#e5ff1a 231px,#b3ff4c 242px,#80ff80 253px,#66ff99 263px),linear-gradient(#80ff80 0px,#4dffb3 11px,#1affe5 22px,#00ffff 33px,#00e5ff 44px,#00e5ff 55px,#00e5ff 66px,#00e5ff 77px,#00ffff 88px,#1affe5 99px,#33ffcc 110px,#66ff99 121px,#99ff66 132px,#b3ff4c 143px,#e5ff1a 154px,#ffff00 165px,#ffe500 176px,#ffcc00 187px,#ffcc00 198px,#ffe500 209px,#ffe500 220px,#ffff00 231px,#ccff33 242px,#99ff66 253px,#80ff80 263px),linear-gradient(#99ff66 0px,#66ff99 11px,#33ffcc 22px,#1affe5 33px,#00ffff 44px,#00e5ff 55px,#00e5ff 66px,#00e5ff 77px,#00e5ff 88px,#00ffff 99px,#1affe5 110px,#4dffb3 121px,#80ff80 132px,#99ff66 143px,#ccff33 154px,#e5ff1a 165px,#ffe500 176px,#ffe500 187px,#ffcc00 198px,#ffcc00 209px,#ffe500 220px,#ffff00 231px,#e5ff1a 242px,#b3ff4c 253px,#99ff66 263px),linear-gradient(#b3ff4c 0px,#80ff80 11px,#4dffb3 22px,#33ffcc 33px,#00ffff 44px,#00e5ff 55px,#00e5ff 66px,#00e5ff 77px,#00e5ff 88px,#00ffff 99px,#1affe5 110px,#33ffcc 121px,#66ff99 132px,#80ff80 143px,#b3ff4c 154px,#e5ff1a 165px,#ffff00 176px,#ffe500 187px,#ffcc00 198px,#ffcc00 209px,#ffcc00 220px,#ffe500 231px,#ffff00 242px,#ccff33 253px,#b3ff4c 263px),linear-gradient(#ccff33 0px,#99ff66 11px,#66ff99 22px,#4dffb3 33px,#1affe5 44px,#00ffff 55px,#00e5ff 66px,#00e5ff 77px,#00e5ff 88px,#00e5ff 99px,#00ffff 110px,#1affe5 121px,#4dffb3 132px,#66ff99 143px,#99ff66 154px,#ccff33 165px,#e5ff1a 176px,#ffff00 187px,#ffe500 198px,#ffcc00 209px,#ffcc00 220px,#ffe500 231px,#ffff00 242px,#e5ff1a 253px,#ccff33 263px),linear-gradient(#e5ff1a 0px,#b3ff4c 11px,#80ff80 22px,#66ff99 33px,#33ffcc 44px,#1affe5 55px,#00ffff 66px,#00e5ff 77px,#00e5ff 88px,#00e5ff 99px,#00e5ff 110px,#00ffff 121px,#33ffcc 132px,#4dffb3 143px,#80ff80 154px,#b3ff4c 165px,#ccff33 176px,#ffff00 187px,#ffe500 198px,#ffcc00 209px,#ffcc00 220px,#ffcc00 231px,#ffe500 242px,#ffff00 253px,#e5ff1a 263px),linear-gradient(#ffff00 0px,#ccff33 11px,#99ff66 22px,#80ff80 33px,#4dffb3 44px,#33ffcc 55px,#00ffff 66px,#00e5ff 77px,#00e5ff 88px,#00e5ff 99px,#00e5ff 110px,#00ffff 121px,#1affe5 132px,#33ffcc 143px,#66ff99 154px,#99ff66 165px,#b3ff4c 176px,#e5ff1a 187px,#ffff00 198px,#ffe500 209px,#ffcc00 220px,#ffcc00 231px,#ffe500 242px,#ffe500 253px,#ffff00 263px),linear-gradient(#ffff00 0px,#e5ff1a 11px,#ccff33 22px,#99ff66 33px,#66ff99 44px,#33ffcc 55px,#1affe5 66px,#00ffff 77px,#00e5ff 88px,#00e5ff 99px,#00e5ff 110px,#00e5ff 121px,#00ffff 132px,#1affe5 143px,#4dffb3 154px,#80ff80 165px,#99ff66 176px,#ccff33 187px,#e5ff1a 198px,#ffe500 209px,#ffe500 220px,#ffcc00 231px,#ffcc00 242px,#ffe500 253px,#ffff00 263px),linear-gradient(#ffe500 0px,#ffff00 11px,#ccff33 22px,#b3ff4c 33px,#80ff80 44px,#4dffb3 55px,#33ffcc 66px,#00ffff 77px,#00e5ff 88px,#00e5ff 99px,#00e5ff 110px,#00e5ff 121px,#00ffff 132px,#1affe5 143px,#33ffcc 154px,#66ff99 165px,#80ff80 176px,#b3ff4c 187px,#e5ff1a 198px,#ffff00 209px,#ffe500 220px,#ffcc00 231px,#ffcc00 242px,#ffcc00 253px,#ffe500 263px),linear-gradient(#ffe500 0px,#ffe500 11px,#e5ff1a 22px,#ccff33 33px,#99ff66 44px,#66ff99 55px,#4dffb3 66px,#1affe5 77px,#00ffff 88px,#00e5ff 99px,#00e5ff 110px,#00e5ff 121px,#00e5ff 132px,#00ffff 143px,#1affe5 154px,#4dffb3 165px,#66ff99 176px,#99ff66 187px,#ccff33 198px,#e5ff1a 209px,#ffff00 220px,#ffe500 231px,#ffcc00 242px,#ffcc00 253px,#ffe500 263px),linear-gradient(#ffcc00 0px,#ffe500 11px,#ffff00 22px,#e5ff1a 33px,#b3ff4c 44px,#99ff66 55px,#66ff99 66px,#33ffcc 77px,#1affe5 88px,#00ffff 99px,#00e5ff 110px,#00e5ff 121px,#00e5ff 132px,#00e5ff 143px,#00ffff 154px,#33ffcc 165px,#4dffb3 176px,#80ff80 187px,#b3ff4c 198px,#ccff33 209px,#ffff00 220px,#ffe500 231px,#ffe500 242px,#ffcc00 253px,#ffcc00 263px),linear-gradient(#ffcc00 0px,#ffe500 11px,#ffe500 22px,#ffff00 33px,#ccff33 44px,#99ff66 55px,#80ff80 66px,#4dffb3 77px,#1affe5 88px,#00ffff 99px,#00e5ff 110px,#00e5ff 121px,#00e5ff 132px,#00e5ff 143px,#00ffff 154px,#1affe5 165px,#33ffcc 176px,#66ff99 187px,#99ff66 198px,#b3ff4c 209px,#e5ff1a 220px,#ffff00 231px,#ffe500 242px,#ffcc00 253px,#ffcc00 263px);background-position:0px 0,8px 0,16px 0,24px 0,32px 0,40px 0,48px 0,56px 0,64px 0,72px 0,80px 0,88px 0,96px 0,104px 0,112px 0,120px 0,128px 0,136px 0,144px 0,152px 0,160px 0,168px 0,176px 0,184px 0,192px 0,200px 0,208px 0,216px 0,224px 0,232px 0,240px 0,248px 0,256px 0,264px 0,272px 0,280px 0,288px 0,296px 0,304px 0,312px 0,320px 0,328px 0,336px 0,344px 0,352px 0,360px 0,368px 0,376px 0,384px 0,392px 0,400px 0,408px 0,416px 0,424px 0,432px 0,440px 0,448px 0,456px 0,464px 0,472px 0,480px 0,488px 0,496px 0,504px 0,512px 0,520px 0,528px 0,536px 0,544px 0,552px 0,560px 0,568px 0,576px 0,584px 0;background-size:8px 264px,8px 264px,8px 264px,8px 264px,8px 264px,8px 264px,8px 264px,8px 264px,8px 264px,8px 264px,8px 264px,8px 264px,8px 264px,8px 264px,8px 264px,8px 264px,8px 264px,8px 264px,8px 264px,8px 264px,8px 264px,8px 264px,8px 264px,8px 264px,8px 264px,8px 264px,8px 264px,8px 264px,8px 264px,8px 264px,8px 264px,8px 264px,8px 264px,8px 264px,8px 264px,8px 264px,8px 264px,8px 264px,8px 264px,8px 264px,8px 264px,8px 264px,8px 264px,8px 264px,8px 264px,8px 264px,8px 264px,8px 264px,8px 264px,8px 264px,8px 264px,8px 264px,8px 264px,8px 264px,8px 264px,8px 264px,8px 264px,8px 264px,8px 264px,8px 264px,8px 264px,8px 264px,8px 264px,8px 264px,8px 264px,8px 264px,8px 264px,8px 264px,8px 264px,8px 264px,8px 264px,8px 264px,8px 264px,7px 264px;background-repeat:no-repeat;}
#fb{background-image:linear-gradient(#66ff99 0px,#33ffcc 11px,#00ffff 22px,#00e5ff 33px,#00ccff 44px,#00b3ff 55px,#00b3ff 66px,#00ccff 77px,#00e5ff 88px,#1affe5 99px,#33ffcc 110px,#66ff99 121px,#99ff66 132px,#ccff33 143px,#ffff00 154px,#ffcc00 165px,#ffb300 176px,#ffb300 187px,#ffb300 198px,#ffcc00 209px,#ffe500 220px,#ffff00 231px,#ccff33 242px,#99ff66 253px,#66ff99 263px),linear-gradient(#80ff80 0px,#4dffb3 11px,#1affe5 22px,#00e5ff 33px,#00ccff 44px,#00ccff 55px,#00b3ff 66px,#00ccff 77px,#00e5ff 88px,#00ffff 99px,#33ffcc 110px,#4dffb3 121px,#80ff80 132px,#b3ff4c 143px,#e5ff1a 154px,#ffe500 165px,#ffcc00 176px,#ffb300 187px,#ffb300 198px,#ffb300 209px,#ffcc00 220px,#ffe500 231px,#e5ff1a 242px,#b3ff4c 253px,#80ff80 263px),linear-gradient(#99ff66 0px,#66ff99 11px,#33ffcc 22px,#00ffff 33px,#00e5ff 44px,#00ccff 55px,#00b3ff 66px,#00ccff 77px,#00ccff 88px,#00e5ff 99px,#1affe5 110px,#4dffb3 121px,#66ff99 132px,#b3ff4c 143px,#ccff33 154px,#ffff00 165px,#ffcc00 176px,#ffcc00 187px,#ffb300 198px,#ffb300 209px,#ffcc00 220px,#ffe500 231px,#ffff00 242px,#ccff33 253px,#99ff66 263px),linear-gradient(#b3ff4c 0px,#80ff80 11px,#4dffb3 22px,#1affe5 33px,#00ffff 44px,#00ccff 55px,#00ccff 66px,#00ccff 77px,#00ccff 88px,#00e5ff 99px,#00ffff 110px,#33ffcc 121px,#66ff99 132px,#99ff66 143px,#b3ff4c 154px,#e5ff1a 165px,#ffe500 176px,#ffcc00 187px,#ffb300 198px,#ffb300 209px,#ffcc00 220px,#ffcc00 231px,#ffff00 242px,#e5ff1a 253px,#b3ff4c 263px),linear-gradient(#ccff33 0px,#99ff66 11px,#66ff99 22px,#33ffcc 33px,#00ffff 44px,#00e5ff 55px,#00ccff 66px,#00ccff 77px,#00ccff 88px,#00ccff 99px,#00e5ff 110px,#1affe5 121px,#4dffb3 132px,#80ff80 143px,#99ff66 154px,#ccff33 165px,#ffff00 176px,#ffe500 187px,#ffcc00 198px,#ffb300 209px,#ffcc00 220px,#ffcc00 231px,#ffe500 242px,#e5ff1a 253px,#ccff33 263px),linear-gradient(#e5ff1a 0px,#b3ff4c 11px,#80ff80 22px,#4dffb3 33px,#1affe5 44px,#00ffff 55px,#00e5ff 66px,#00ccff 77px,#00ccff 88px,#00ccff 99px,#00e5ff 110px,#00ffff 121px,#33ffcc 132px,#66ff99 143px,#80ff80 154px,#b3ff4c 165px,#e5ff1a 176px,#ffff00 187px,#ffe500 198px,#ffcc00 209px,#ffcc00 220px,#ffcc00 231px,#ffe500 242px,#ffff00 253px,#e5ff1a 263px),linear-gradient(#e5ff1a 0px,#ccff33 11px,#99ff66 22px,#66ff99 33px,#4dffb3 44px,#1affe5 55px,#00ffff 66px,#00e5ff 77px,#00ccff 88px,#00ccff 99px,#00e5ff 110px,#00ffff 121px,#1affe5 132px,#4dffb3 143px,#66ff99 154px,#99ff66 165px,#ccff33 176px,#e5ff1a 187px,#ffe500 198px,#ffcc00 209px,#ffcc00 220px,#ffcc00 231px,#ffcc00 242px,#ffe500 253px,#ffff00 263px),linear-gradient(#ffff00 0px,#e5ff1a 11px,#b3ff4c 22px,#80ff80 33px,#66ff99 44px,#33ffcc 55px,#1affe5 66px,#00ffff 77px,#00e5ff 88px,#00e5ff 99px,#00e5ff 110px,#00e5ff 121px,#00ffff 132px,#33ffcc 143px,#4dffb3 154px,#80ff80 165px,#b3ff4c 176px,#ccff33 187px,#ffff00 198px,#ffe500 209px,#ffe500 220px,#ffcc00 231px,#ffcc00 242px,#ffe500 253px,#ffff00 263px),linear-gradient(#ffe500 0px,#ffff00 11px,#ccff33 22px,#b3ff4c 33px,#80ff80 44px,#4dffb3 55px,#33ffcc 66px,#1affe5 77px,#00ffff 88px,#00e5ff 99px,#00e5ff 110px,#00e5ff 121px,#00ffff 132px,#1affe5 143px,#33ffcc 154px,#66ff99 165px,#80ff80 176px,#b3ff4c 187px,#e5ff1a 198px,#ffff00 209px,#ffe500 220px,#ffe500 231px,#ffcc00 242px,#ffe500 253px,#ffe500 263px),linear-gradient(#ffe500 0px,#ffff00 11px,#e5ff1a 22px,#ccff33 33px,#99ff66 44px,#80ff80 55px,#4dffb3 66px,#33ffcc 77px,#00ffff 88px,#00ffff 99px,#00e5ff 110px,#00e5ff 121px,#00e5ff 132px,#00ffff 143px,#1affe5 154px,#4dffb3 165px,#66ff99 176px,#99ff66 187px,#b3ff4c 198px,#e5ff1a 209px,#ffff00 220px,#ffe500 231px,#ffe500 242px,#ffe500 253px,#ffe500 263px),linear-gradient(#ffe500 0px,#ffe500 11px,#ffff00 22px,#e5ff1a 33px,#b3ff4c 44px,#99ff66 55px,#66ff99 66px,#4dffb3 77px,#1affe5 88px,#00ffff 99px,#00e5ff 110px,#00e5ff 121px,#00e5ff 132px,#00ffff 143px,#00ffff 154px,#33ffcc 165px,#4dffb3 176px,#80ff80 187px,#99ff66 198px,#ccff33 209px,#e5ff1a 220px,#ffff00 231px,#ffe500 242px,#ffe500 253px,#ffe500 263px),linear-gradient(#ffe500 0px,#ffe500 11px,#ffe500 22px,#ffff00 33px,#ccff33 44px,#b3ff4c 55px,#80ff80 66px,#66ff99 77px,#33ffcc 88px,#1affe5 99px,#00ffff 110px,#00e5ff 121px,#00e5ff 132px,#00e5ff 143px,#00ffff 154px,#1affe5 165px,#33ffcc 176px,#4dffb3 187px,#80ff80 198px,#b3ff4c 209px,#ccff33 220px,#e5ff1a 231px,#ffff00 242px,#ffe500 253px,#ffe500 263px),linear-gradient(#ffe500 0px,#ffe500 11px,#ffe500 22px,#ffe500 33px,#ffff00 44px,#ccff33 55px,#b3ff4c 66px,#80ff80 77px,#4dffb3 88px,#33ffcc 99px,#1affe5 110px,#00ffff 121px,#00e5ff 132px,#00e5ff 143px,#00e5ff 154px,#00ffff 165px,#1affe5 176px,#33ffcc 187px,#66ff99 198px,#80ff80 209px,#b3ff4c 220px,#ccff33 231px,#ffff00 242px,#ffe500 253px,#ffe500 263px),linear-gradient(#ffe500 0px,#ffcc00 11px,#ffcc00 22px,#ffe500 33px,#ffff00 44px,#e5ff1a 55px,#ccff33 66px,#99ff66 77px,#80ff80 88px,#4dffb3 99px,#1affe5 110px,#00ffff 121px,#00e5ff 132px,#00e5ff 143px,#00e5ff 154px,#00e5ff 165px,#00ffff 176px,#1affe5 187px,#33ffcc 198px,#66ff99 209px,#99ff66 220px,#b3ff4c 231px,#e5ff1a 242px,#ffff00 253px,#ffe500 263px),linear-gradient(#ffe500 0px,#ffcc00 11px,#ffcc00 22px,#ffcc00 33px,#ffe500 44px,#ffff00 55px,#e5ff1a 66px,#b3ff4c 77px,#99ff66 88px,#66ff99 99px,#33ffcc 110px,#1affe5 121px,#00ffff 132px,#00e5ff 143px,#00ccff 154px,#00e5ff 165px,#00e5ff 176px,#00ffff 187px,#1affe5 198px,#4dffb3 209px,#80ff80 220px,#99ff66 231px,#ccff33 242px,#ffff00 253px,#ffe500 263px),linear-gradient(#ffff00 0px,#ffe500 11px,#ffcc00 22px,#ffcc00 33px,#ffcc00 44px,#ffe500 55px,#ffff00 66px,#e5ff1a 77px,#b3ff4c 88px,#80ff80 99px,#4dffb3 110px,#33ffcc 121px,#00ffff 132px,#00e5ff 143px,#00ccff 154px,#00ccff 165px,#00ccff 176px,#00e5ff 187px,#00ffff 198px,#33ffcc 209px,#4dffb3 220px,#80ff80 231px,#b3ff4c 242px,#e5ff1a 253px,#ffff00 263px),linear-gradient(#ffff00 0px,#ffe500 11px,#ffcc00 22px,#ffcc00 33px,#ffcc00 44px,#ffcc00 55px,#ffe500 66px,#ffff00 77px,#ccff33 88px,#99ff66 99px,#66ff99 110px,#33ffcc 121px,#1affe5 132px,#00e5ff 143px,#00ccff 154px,#00ccff 165px,#00ccff 176px,#00ccff 187px,#00e5ff 198px,#1affe5 209px,#33ffcc 220px,#66ff99 231px,#99ff66 242px,#ccff33 253px,#e5ff1a 263px),linear-gradient(#e5ff1a 0px,#ffff00 11px,#ffcc00 22px,#ffcc00 33px,#ffb300 44px,#ffcc00 55px,#ffcc00 66px,#ffe500 77px,#e5ff1a 88px,#b3ff4c 99px,#80ff80 110px,#4dffb3 121px,#33ffcc 132px,#00ffff 143px,#00e5ff 154px,#00ccff 165px,#00ccff 176px,#00ccff 187px,#00e5ff 198px,#00ffff 209px,#1affe5 220px,#4dffb3 231px,#80ff80 242px,#b3ff4c 253px,#e5ff1a 263px),linear-gradient(#ccff33 0px,#ffff00 11px,#ffe500 22px,#ffcc00 33px,#ffb300 44px,#ffb300 55px,#ffcc00 66px,#ffe500 77px,#ffff00 88px,#ccff33 99px,#99ff66 110px,#66ff99 121px,#33ffcc 132px,#1affe5 143px,#00e5ff 154px,#00ccff 165px,#00ccff 176px,#00ccff 187px,#00ccff 198px,#00e5ff 209px,#00ffff 220px,#33ffcc 231px,#66ff99 242px,#99ff66 253px,#ccff33 263px),linear-gradient(#b3ff4c 0px,#e5ff1a 11px,#ffe500 22px,#ffcc00 33px,#ffb300 44px,#ffb300 55px,#ffb300 66px,#ffcc00 77px,#ffe500 88px,#e5ff1a 99px,#b3ff4c 110px,#80ff80 121px,#4dffb3 132px,#1affe5 143px,#00ffff 154px,#00ccff 165px,#00ccff 176px,#00b3ff 187px,#00ccff 198px,#00ccff 209px,#00ffff 220px,#1affe5 231px,#4dffb3 242px,#80ff80 253px,#b3ff4c 263px),linear-gradient(#99ff66 0px,#ccff33 11px,#ffff00 22px,#ffe500 33px,#ffcc00 44px,#ffb300 55px,#ffb300 66px,#ffcc00 77px,#ffe500 88px,#ffff00 99px,#ccff33 110px,#99ff66 121px,#66ff99 132px,#33ffcc 143px,#00ffff 154px,#00e5ff 165px,#00ccff 176px,#00b3ff 187px,#00b3ff 198px,#00ccff 209px,#00e5ff 220px,#00ffff 231px,#33ffcc 242px,#66ff99 253px,#99ff66 263px),linear-gradient(#80ff80 0px,#b3ff4c 11px,#e5ff1a 22px,#ffe500 33px,#ffcc00 44px,#ffb300 55px,#ffb300 66px,#ffb300 77px,#ffcc00 88px,#ffe500 99px,#e5ff1a 110px,#b3ff4c 121px,#80ff80 132px,#4dffb3 143px,#1affe5 154px,#00ffff 165px,#00ccff 176px,#00ccff 187px,#00b3ff 198px,#00ccff 209px,#00ccff 220px,#00ffff 231px,#1affe5 242px,#4dffb3 253px,#80ff80 263px),linear-gradient(#66ff99 0px,#99ff66 11px,#ccff33 22px,#ffff00 33px,#ffe500 44px,#ffcc00 55px,#ffb300 66px,#ffb300 77px,#ffcc00 88px,#ffe500 99px,#ffff00 110px,#ccff33 121px,#99ff66 132px,#66ff99 143px,#33ffcc 154px,#00ffff 165px,#00e5ff 176px,#00ccff 187px,#00ccff 198px,#00ccff 209px,#00ccff 220px,#00e5ff 231px,#1affe5 242px,#33ffcc 253px,#66ff99 263px),linear-gradient(#4dffb3 0px,#80ff80 11px,#b3ff4c 22px,#e5ff1a 33px,#ffe500 44px,#ffcc00 55px,#ffb300 66px,#ffb300 77px,#ffcc00 88px,#ffcc00 99px,#ffe500 110px,#e5ff1a 121px,#b3ff4c 132px,#80ff80 143px,#4dffb3 154px,#1affe5 165px,#00ffff 176px,#00e5ff 187px,#00ccff 198px,#00ccff 209px,#00ccff 220px,#00e5ff 231px,#00ffff 242px,#1affe5 253px,#4dffb3 263px),linear-gradient(#33ffcc 0px,#66ff99 11px,#99ff66 22px,#ccff33 33px,#ffff00 44px,#ffe500 55px,#ffcc00 66px,#ffb300 77px,#ffb300 88px,#ffcc00 99px,#ffe500 110px,#ffff00 121px,#ccff33 132px,#99ff66 143px,#66ff99 154px,#33ffcc 165px,#1affe5 176px,#00e5ff 187px,#00ccff 198px,#00ccff 209px,#00ccff 220px,#00ccff 231px,#00e5ff 242px,#1affe5 253px,#33ffcc 263px),linear-gradient(#00ccff 0px,#00e5ff 11px,#1affe5 22px,#4dffb3 33px,#80ff80 44px,#b3ff4c 55px,#e5ff1a 66px,#ffe500 77px,#ffcc00 88px,#ffb300 99px,#ffb300 110px,#ffb300 121px,#ffb300 132px,#ffe500 143px,#ffff00 154px,#ccff33 165px,#99ff66 176px,#66ff99 187px,#33ffcc 198px,#00ffff 209px,#00ccff 220px,#00ccff 231px,#00b3ff 242px,#00b3ff 253px,#00ccff 263px),linear-gradient(#0066ff 0px,#0080ff 11px,#0080ff 22px,#00b3ff 33px,#00e5ff 44px,#1affe5 55px,#66ff99 66px,#b3ff4c 77px,#ffff00 88px,#ffcc00 99px,#ff9900 110px,#ff8000 121px,#ff6600 132px,#ff6600 143px,#ff8000 154px,#ff9900 165px,#ffcc00 176px,#e5ff1a 187px,#99ff66 198px,#4dffb3 209px,#1affe5 220px,#00ccff 231px,#0099ff 242px,#0080ff 253px,#0066ff 263px),linear-gradient(#004dff 0px,#0033ff 11px,#0033ff 22px,#0033ff 33px,#0066ff 44px,#00b3ff 55px,#00ffff 66px,#4dffb3 77px,#b3ff4c 88px,#ffff00 99px,#ffb300 110px,#ff6600 121px,#ff3300 132px,#ff1a00 143px,#ff1a00 154px,#ff3300 165px,#ff6600 176px,#ff9900 187px,#ffe500 198px,#b3ff4c 209px,#66ff99 220px,#00ffff 231px,#00b3ff 242px,#0080ff 253px,#004dff 263px),linear-gradient(#004dff 0px,#001aff 11px,#0000ff 22px,#0000ff 33px,#001aff 44px,#004dff 55px,#0099ff 66px,#00ffff 77px,#4dffb3 88px,#b3ff4c 99px,#ffe500 110px,#ff8000 121px,#ff4c00 132px,#ff1a00 143px,#ff0000 154px,#ff0000 165px,#ff1a00 176px,#ff4c00 187px,#ff9900 198px,#ffe500 209px,#b3ff4c 220px,#4dffb3 231px,#00e5ff 242px,#0099ff 253px,#004dff 263px),linear-gradient(#0080ff 0px,#004dff 11px,#001aff 22px,#0000ff 33px,#001aff 44px,#0033ff 55px,#0066ff 66px,#00b3ff 77px,#00ffff 88px,#66ff99 99px,#ccff33 110px,#ffcc00 121px,#ff8000 132px,#ff4c00 143px,#ff1a00 154px,#ff0000 165px,#ff0000 176px,#ff3300 187px,#ff6600 198px,#ffb300 209px,#ffff00 220px,#99ff66 231px,#33ffcc 242px,#00e5ff 253px,#0099ff 263px),linear-gradient(#00e5ff 0px,#00b3ff 11px,#0080ff 22px,#004dff 33px,#004dff 44px,#004dff 55px,#0066ff 66px,#0099ff 77px,#00ccff 88px,#1affe5 99px,#80ff80 110px,#ccff33 121px,#ffe500 132px,#ff9900 143px,#ff6600 154px,#ff4c00 165px,#ff3300 176px,#ff3300 187px,#ff6600 198px,#ff8000 209px,#ffcc00 220px,#e5ff1a 231px,#99ff66 242px,#4dffb3 253px,#00ffff 263px),linear-gradient(#66ff99 0px,#33ffcc 11px,#00ffff 22px,#00ccff 33px,#00b3ff 44px,#0099ff 55px,#0099ff 66px,#0099ff 77px,#00b3ff 88px,#00e5ff 99px,#1affe5 110px,#4dffb3 121px,#99ff66 132px,#ccff33 143px,#ffe500 154px,#ffb300 165px,#ff9900 176px,#ff8000 187px,#ff8000 198px,#ff9900 209px,#ffb300 220px,#ffe500 231px,#e5ff1a 242px,#b3ff4c 253px,#80ff80 263px),linear-gradient(#e5ff1a 0px,#ccff33 11px,#99ff66 22px,#66ff99 33px,#33ffcc 44px,#00ffff 55px,#00e5ff 66px,#00ccff 77px,#00ccff 88px,#00ccff 99px,#00ccff 110px,#00e5ff 121px,#1affe5 132px,#4dffb3 143px,#80ff80 154px,#b3ff4c 165px,#e5ff1a 176px,#ffff00 187px,#ffcc00 198px,#ffcc00 209px,#ffb300 220px,#ffb300 231px,#ffcc00 242px,#ffe500 253px,#ffff00 263px),linear-gradient(#ff9900 0px,#ffb300 11px,#ffcc00 22px,#ffff00 33px,#ccff33 44px,#80ff80 55px,#4dffb3 66px,#1affe5 77px,#00e5ff 88px,#00ccff 99px,#00b3ff 110px,#0099ff 121px,#00b3ff 132px,#00b3ff 143px,#00e5ff 154px,#1affe5 165px,#4dffb3 176px,#80ff80 187px,#b3ff4c 198px,#e5ff1a 209px,#ffe500 220px,#ffb300 231px,#ff9900 242px,#ff9900 253px,#ff9900 263px),linear-gradient(#ff4c00 0px,#ff4c00 11px,#ff4c00 22px,#ff8000 33px,#ffb300 44px,#ffe500 55px,#ccff33 66px,#80ff80 77px,#33ffcc 88px,#00e5ff 99px,#0099ff 110px,#0080ff 121px,#0066ff 132px,#004dff 143px,#0066ff 154px,#0080ff 165px,#00b3ff 176px,#00ffff 187px,#4dffb3 198px,#99ff66 209px,#e5ff1a 220px,#ffcc00 231px,#ff9900 242px,#ff6600 253px,#ff4c00 263px),linear-gradient(#ff3300 0px,#ff1a00 11px,#ff0000 22px,#ff1a00 33px,#ff4c00 44px,#ff8000 55px,#ffcc00 66px,#e5ff1a 77px,#80ff80 88px,#1affe5 99px,#00ccff 110px,#0080ff 121px,#004dff 132px,#001aff 143px,#001aff 154px,#001aff 165px,#004dff 176px,#0080ff 187px,#00ccff 198px,#33ffcc 209px,#99ff66 220px,#e5ff1a 231px,#ffb300 242px,#ff6600 253px,#ff3300 263px),linear-gradient(#ff4c00 0px,#ff1a00 11px,#ff0000 22px,#ff0000 33px,#ff0000 44px,#ff3300 55px,#ff8000 66px,#ffcc00 77px,#ccff33 88px,#66ff99 99px,#00ffff 110px,#00b3ff 121px,#0066ff 132px,#0033ff 143px,#0000ff 154px,#0000ff 165px,#001aff 176px,#004dff 187px,#0080ff 198px,#00e5ff 209px,#33ffcc 220px,#99ff66 231px,#ffff00 242px,#ff9900 253px,#ff6600 263px),linear-gradient(#ff9900 0px,#ff6600 11px,#ff3300 22px,#ff1a00 33px,#ff1a00 44px,#ff3300 55px,#ff4c00 66px,#ff9900 77px,#ffe500 88px,#b3ff4c 99px,#4dffb3 110px,#00ffff 121px,#00b3ff 132px,#0066ff 143px,#0033ff 154px,#001aff 165px,#001aff 176px,#0033ff 187px,#0066ff 198px,#0099ff 209px,#00ffff 220px,#4dffb3 231px,#b3ff4c 242px,#ffe500 253px,#ffb300 263px),linear-gradient(#e5ff1a 0px,#ffcc00 11px,#ff9900 22px,#ff6600 33px,#ff4c00 44px,#ff4c00 55px,#ff6600 66px,#ff8000 77px,#ffb300 88px,#ffff00 99px,#b3ff4c 110px,#66ff99 121px,#1affe5 132px,#00ccff 143px,#0099ff 154px,#0080ff 165px,#0066ff 176px,#0066ff 187px,#0066ff 198px,#0099ff 209px,#00ccff 220px,#00ffff 231px,#4dffb3 242px,#99ff66 253px,#e5ff1a 263px),linear-gradient(#66ff99 0px,#b3ff4c 11px,#e5ff1a 22px,#ffe500 33px,#ffcc00 44px,#ffb300 55px,#ff9900 66px,#ff9900 77px,#ffb300 88px,#ffcc00 99px,#ffff00 110px,#ccff33 121px,#99ff66 132px,#66ff99 143px,#33ffcc 154px,#00ffff 165px,#00ccff 176px,#00b3ff 187px,#00b3ff 198px,#00b3ff 209px,#00b3ff 220px,#00ccff 231px,#00ffff 242px,#33ffcc 253px,#66ff99 263px),linear-gradient(#00e5ff 0px,#1affe5 11px,#4dffb3 22px,#80ff80 33px,#b3ff4c 44px,#ccff33 55px,#ffff00 66px,#ffcc00 77px,#ffcc00 88px,#ffb300 99px,#ffb300 110px,#ffcc00 121px,#ffe500 132px,#ffff00 143px,#ccff33 154px,#99ff66 165px,#66ff99 176px,#33ffcc 187px,#00ffff 198px,#00e5ff 209px,#00ccff 220px,#00ccff 231px,#00ccff 242px,#00ccff 253px,#00e5ff 263px),linear-gradient(#0080ff 0px,#0099ff 11px,#00b3ff 22px,#00e5ff 33px,#1affe5 44px,#4dffb3 55px,#99ff66 66px,#ccff33 77px,#ffff00 88px,#ffcc00 99px,#ff9900 110px,#ff8000 121px,#ff8000 132px,#ff8000 143px,#ffb300 154px,#ffcc00 165px,#ffff00 176px,#b3ff4c 187px,#80ff80 198px,#33ffcc 209px,#00ffff 220px,#00ccff 231px,#0099ff 242px,#0099ff 253px,#0080ff 263px),linear-gradient(#004dff 0px,#0033ff 11px,#004dff 22px,#0066ff 33px,#0099ff 44px,#00ccff 55px,#1affe5 66px,#66ff99 77px,#ccff33 88px,#ffe500 99px,#ff9900 110px,#ff6600 121px,#ff4c00 132px,#ff3300 143px,#ff3300 154px,#ff4c00 165px,#ff8000 176px,#ffcc00 187px,#e5ff1a 198px,#99ff66 209px,#4dffb3 220px,#00ffff 231px,#00b3ff 242px,#0080ff 253px,#004dff 263px),linear-gradient(#004dff 0px,#001aff 11px,#0000ff 22px,#001aff 33px,#0033ff 44px,#0066ff 55px,#00b3ff 66px,#1affe5 77px,#66ff99 88px,#ccff33 99px,#ffcc00 110px,#ff8000 121px,#ff3300 132px,#ff1a00 143px,#ff0000 154px,#ff0000 165px,#ff3300 176px,#ff6600 187px,#ffb300 198px,#ffff00 209px,#99ff66 220px,#33ffcc 231px,#00ccff 242px,#0080ff 253px,#004dff 263px),linear-gradient(#0066ff 0px,#0033ff 11px,#001aff 22px,#0000ff 33px,#001aff 44px,#0033ff 55px,#0080ff 66px,#00ccff 77px,#1affe5 88px,#80ff80 99px,#e5ff1a 110px,#ffb300 121px,#ff6600 132px,#ff3300 143px,#ff0000 154px,#ff0000 165px,#ff0000 176px,#ff3300 187px,#ff6600 198px,#ffb300 209px,#e5ff1a 220px,#80ff80 231px,#1affe5 242px,#00ccff 253px,#0080ff 263px),linear-gradient(#00ccff 0px,#0080ff 11px,#004dff 22px,#0033ff 33px,#0033ff 44px,#0033ff 55px,#0066ff 66px,#0099ff 77px,#00e5ff 88px,#33ffcc 99px,#99ff66 110px,#e5ff1a 121px,#ffcc00 132px,#ff8000 143px,#ff4c00 154px,#ff3300 165px,#ff1a00 176px,#ff3300 187px,#ff4c00 198px,#ff9900 209px,#ffe500 220px,#ccff33 231px,#80ff80 242px,#1affe5 253px,#00ccff 263px),linear-gradient(#4dffb3 0px,#00ffff 11px,#00ccff 22px,#0099ff 33px,#0080ff 44px,#0080ff 55px,#0080ff 66px,#0099ff 77px,#00b3ff 88px,#00ffff 99px,#33ffcc 110px,#80ff80 121px,#ccff33 132px,#ffff00 143px,#ffcc00 154px,#ff9900 165px,#ff8000 176px,#ff6600 187px,#ff6600 198px,#ff8000 209px,#ffb300 220px,#ffe500 231px,#ccff33 242px,#80ff80 253px,#4dffb3 263px),linear-gradient(#ccff33 0px,#99ff66 11px,#66ff99 22px,#33ffcc 33px,#00ffff 44px,#00e5ff 55px,#00ccff 66px,#00b3ff 77px,#00b3ff 88px,#00ccff 99px,#00e5ff 110px,#1affe5 121px,#4dffb3 132px,#80ff80 143px,#b3ff4c 154px,#e5ff1a 165px,#ffff00 176px,#ffcc00 187px,#ffb300 198px,#ffb300 209px,#ffb300 220px,#ffcc00 231px,#ffe500 242px,#ffff00 253px,#ccff33 263px),linear-gradient(#e5ff1a 0px,#b3ff4c 11px,#99ff66 22px,#66ff99 33px,#33ffcc 44px,#1affe5 55px,#00ffff 66px,#00e5ff 77px,#00ccff 88px,#00e5ff 99px,#00e5ff 110px,#00ffff 121px,#1affe5 132px,#4dffb3 143px,#80ff80 154px,#b3ff4c 165px,#ccff33 176px,#ffff00 187px,#ffe500 198px,#ffcc00 209px,#ffcc00 220px,#ffcc00 231px,#ffe500 242px,#ffff00 253px,#e5ff1a 263px),linear-gradient(#ffff00 0px,#ccff33 11px,#b3ff4c 22px,#80ff80 33px,#4dffb3 44px,#33ffcc 55px,#00ffff 66px,#00e5ff 77px,#00e5ff 88px,#00ccff 99px,#00e5ff 110px,#00e5ff 121px,#1affe5 132px,#33ffcc 143px,#66ff99 154px,#80ff80 165px,#b3ff4c 176px,#e5ff1a 187px,#ffff00 198px,#ffe500 209px,#ffcc00 220px,#ffcc00 231px,#ffcc00 242px,#ffe500 253px,#ffff00 263px),linear-gradient(#ffe500 0px,#e5ff1a 11px,#ccff33 22px,#99ff66 33px,#66ff99 44px,#33ffcc 55px,#1affe5 66px,#00ffff 77px,#00e5ff 88px,#00ccff 99px,#00ccff 110px,#00e5ff 121px,#00ffff 132px,#1affe5 143px,#4dffb3 154px,#66ff99 165px,#99ff66 176px,#ccff33 187px,#e5ff1a 198px,#ffe500 209px,#ffcc00 220px,#ffcc00 231px,#ffcc00 242px,#ffe500 253px,#ffe500 263px),linear-gradient(#ffe500 0px,#ffff00 11px,#e5ff1a 22px,#b3ff4c 33px,#80ff80 44px,#66ff99 55px,#33ffcc 66px,#00ffff 77px,#00e5ff 88px,#00e5ff 99px,#00ccff 110px,#00e5ff 121px,#00e5ff 132px,#00ffff 143px,#33ffcc 154px,#4dffb3 165px,#80ff80 176px,#b3ff4c 187px,#e5ff1a 198px,#ffff00 209px,#ffe500 220px,#ffcc00 231px,#ffcc00 242px,#ffcc00 253px,#ffe500 263px),linear-gradient(#ffcc00 0px,#ffe500 11px,#ffff00 22px,#ccff33 33px,#99ff66 44px,#80ff80 55px,#4dffb3 66px,#1affe5 77px,#00ffff 88px,#00e5ff 99px,#00ccff 110px,#00ccff 121px,#00e5ff 132px,#00ffff 143px,#1affe5 154px,#33ffcc 165px,#66ff99 176px,#99ff66 187px,#ccff33 198px,#e5ff1a 209px,#ffff00 220px,#ffe500 231px,#ffcc00 242px,#ffcc00 253px,#ffcc00 263px),linear-gradient(#ffcc00 0px,#ffe500 11px,#ffff00 22px,#e5ff1a 33px,#b3ff4c 44px,#99ff66 55px,#66ff99 66px,#33ffcc 77px,#1affe5 88px,#00ffff 99px,#00e5ff 110px,#00ccff 121px,#00e5ff 132px,#00e5ff 143px,#00ffff 154px,#1affe5 165px,#4dffb3 176px,#80ff80 187px,#b3ff4c 198px,#ccff33 209px,#ffff00 220px,#ffe500 231px,#ffcc00 242px,#ffcc00 253px,#ffcc00 263px),linear-gradient(#ffcc00 0px,#ffcc00 11px,#ffe500 22px,#ffff00 33px,#ccff33 44px,#b3ff4c 55px,#80ff80 66px,#4dffb3 77px,#33ffcc 88px,#00ffff 99px,#00e5ff 110px,#00e5ff 121px,#00ccff 132px,#00e5ff 143px,#00e5ff 154px,#1affe5 165px,#33ffcc 176px,#66ff99 187px,#80ff80 198px,#b3ff4c 209px,#e5ff1a 220px,#ffff00 231px,#ffe500 242px,#ffcc00 253px,#ffcc00 263px),linear-gradient(#ffcc00 0px,#ffcc00 11px,#ffe500 22px,#ffe500 33px,#e5ff1a 44px,#ccff33 55px,#99ff66 66px,#66ff99 77px,#4dffb3 88px,#1affe5 99px,#00ffff 110px,#00e5ff 121px,#00ccff 132px,#00ccff 143px,#00e5ff 154px,#00ffff 165px,#1affe5 176px,#4dffb3 187px,#66ff99 198px,#99ff66 209px,#ccff33 220px,#e5ff1a 231px,#ffe500 242px,#ffe500 253px,#ffcc00 263px),linear-gradient(#ffcc00 0px,#ffcc00 11px,#ffcc00 22px,#ffe500 33px,#ffff00 44px,#e5ff1a 55px,#b3ff4c 66px,#80ff80 77px,#66ff99 88px,#33ffcc 99px,#00ffff 110px,#00e5ff 121px,#00e5ff 132px,#00ccff 143px,#00e5ff 154px,#00e5ff 165px,#00ffff 176px,#33ffcc 187px,#4dffb3 198px,#80ff80 209px,#b3ff4c 220px,#ccff33 231px,#ffff00 242px,#ffe500 253px,#ffcc00 263px),linear-gradient(#ffe500 0px,#ffcc00 11px,#ffcc00 22px,#ffcc00 33px,#ffe500 44px,#ffff00 55px,#ccff33 66px,#99ff66 77px,#80ff80 88px,#4dffb3 99px,#1affe5 110px,#00ffff 121px,#00e5ff 132px,#00e5ff 143px,#00ccff 154px,#00e5ff 165px,#00ffff 176px,#1affe5 187px,#33ffcc 198px,#66ff99 209px,#99ff66 220px,#b3ff4c 231px,#e5ff1a 242px,#ffff00 253px,#ffe500 263px),linear-gradient(#ffe500 0px,#ffcc00 11px,#ffcc00 22px,#ffcc00 33px,#ffe500 44px,#ffff00 55px,#e5ff1a 66px,#b3ff4c 77px,#99ff66 88px,#66ff99 99px,#33ffcc 110px,#1affe5 121px,#00ffff 132px,#00e5ff 143px,#00ccff 154px,#00e5ff 165px,#00e5ff 176px,#00ffff 187px,#1affe5 198px,#4dffb3 209px,#80ff80 220px,#99ff66 231px,#ccff33 242px,#ffff00 253px,#ffe500 263px),linear-gradient(#ffff00 0px,#ffe500 11px,#ffcc00 22px,#ffcc00 33px,#ffcc00 44px,#ffe500 55px,#ffff00 66px,#ccff33 77px,#b3ff4c 88px,#80ff80 99px,#4dffb3 110px,#33ffcc 121px,#00ffff 132px,#00e5ff 143px,#00e5ff 154px,#00ccff 165px,#00e5ff 176px,#00e5ff 187px,#1affe5 198px,#33ffcc 209px,#66ff99 220px,#80ff80 231px,#b3ff4c 242px,#e5ff1a 253px,#ffff00 263px),linear-gradient(#e5ff1a 0px,#ffe500 11px,#ffe500 22px,#ffcc00 33px,#ffcc00 44px,#ffe500 55px,#ffe500 66px,#e5ff1a 77px,#ccff33 88px,#99ff66 99px,#66ff99 110px,#4dffb3 121px,#1affe5 132px,#00ffff 143px,#00e5ff 154px,#00ccff 165px,#00ccff 176px,#00e5ff 187px,#00ffff 198px,#1affe5 209px,#4dffb3 220px,#66ff99 231px,#99ff66 242px,#ccff33 253px,#e5ff1a 263px),linear-gradient(#ccff33 0px,#ffff00 11px,#ffe500 22px,#ffcc00 33px,#ffcc00 44px,#ffcc00 55px,#ffe500 66px,#ffff00 77px,#e5ff1a 88px,#b3ff4c 99px,#80ff80 110px,#66ff99 121px,#33ffcc 132px,#1affe5 143px,#00e5ff 154px,#00e5ff 165px,#00ccff 176px,#00e5ff 187px,#00e5ff 198px,#00ffff 209px,#33ffcc 220px,#4dffb3 231px,#80ff80 242px,#b3ff4c 253px,#ccff33 263px),linear-gradient(#b3ff4c 0px,#e5ff1a 11px,#ffff00 22px,#ffe500 33px,#ffcc00 44px,#ffcc00 55px,#ffcc00 66px,#ffe500 77px,#ffff00 88px,#ccff33 99px,#99ff66 110px,#80ff80 121px,#4dffb3 132px,#1affe5 143px,#00ffff 154px,#00e5ff 165px,#00e5ff 176px,#00ccff 187px,#00e5ff 198px,#00ffff 209px,#1affe5 220px,#33ffcc 231px,#66ff99 242px,#99ff66 253px,#b3ff4c 263px),linear-gradient(#99ff66 0px,#ccff33 11px,#ffff00 22px,#ffe500 33px,#ffcc00 44px,#ffcc00 55px,#ffcc00 66px,#ffe500 77px,#ffff00 88px,#e5ff1a 99px,#ccff33 110px,#99ff66 121px,#66ff99 132px,#33ffcc 143px,#1affe5 154px,#00ffff 165px,#00e5ff 176px,#00ccff 187px,#00e5ff 198px,#00e5ff 209px,#00ffff 220px,#1affe5 231px,#4dffb3 242px,#80ff80 253px,#99ff66 263px),linear-gradient(#80ff80 0px,#b3ff4c 11px,#e5ff1a 22px,#ffff00 33px,#ffe500 44px,#ffcc00 55px,#ffcc00 66px,#ffcc00 77px,#ffe500 88px,#ffff00 99px,#e5ff1a 110px,#b3ff4c 121px,#80ff80 132px,#4dffb3 143px,#33ffcc 154px,#00ffff 165px,#00e5ff 176px,#00e5ff 187px,#00ccff 198px,#00e5ff 209px,#00e5ff 220px,#00ffff 231px,#33ffcc 242px,#66ff99 253px,#80ff80 263px),linear-gradient(#66ff99 0px,#99ff66 11px,#ccff33 22px,#e5ff1a 33px,#ffe500 44px,#ffe500 55px,#ffcc00 66px,#ffcc00 77px,#ffcc00 88px,#ffe500 99px,#e5ff1a 110px,#ccff33 121px,#99ff66 132px,#66ff99 143px,#4dffb3 154px,#1affe5 165px,#00ffff 176px,#00e5ff 187px,#00ccff 198px,#00ccff 209px,#00e5ff 220px,#00ffff 231px,#1affe5 242px,#4dffb3 253px,#66ff99 263px),linear-gradient(#4dffb3 0px,#80ff80 11px,#b3ff4c 22px,#ccff33 33px,#ffff00 44px,#ffe500 55px,#ffcc00 66px,#ffcc00 77px,#ffcc00 88px,#ffe500 99px,#ffff00 110px,#e5ff1a 121px,#b3ff4c 132px,#80ff80 143px,#66ff99 154px,#33ffcc 165px,#1affe5 176px,#00e5ff 187px,#00e5ff 198px,#00ccff 209px,#00e5ff 220px,#00e5ff 231px,#00ffff 242px,#33ffcc 253px,#4dffb3 263px),linear-gradient(#33ffcc 0px,#66ff99 11px,#99ff66 22px,#b3ff4c 33px,#e5ff1a 44px,#ffff00 55px,#ffe500 66px,#ffcc00 77px,#ffcc00 88px,#ffcc00 99px,#ffe500 110px,#ffff00 121px,#ccff33 132px,#b3ff4c 143px,#80ff80 154px,#4dffb3 165px,#1affe5 176px,#00ffff 187px,#00e5ff 198px,#00e5ff 209px,#00ccff 220px,#00e5ff 231px,#00ffff 242px,#1affe5 253px,#33ffcc 263px),linear-gradient(#1affe5 0px,#4dffb3 11px,#80ff80 22px,#99ff66 33px,#ccff33 44px,#ffff00 55px,#ffe500 66px,#ffcc00 77px,#ffcc00 88px,#ffcc00 99px,#ffe500 110px,#ffff00 121px,#e5ff1a 132px,#ccff33 143px,#99ff66 154px,#66ff99 165px,#33ffcc 176px,#1affe5 187px,#00ffff 198px,#00e5ff 209px,#00ccff 220px,#00ccff 231px,#00e5ff 242px,#00ffff 253px,#1affe5 263px),linear-gradient(#00ffff 0px,#33ffcc 11px,#4dffb3 22px,#80ff80 33px,#b3ff4c 44px,#e5ff1a 55px,#ffff00 66px,#ffe500 77px,#ffcc00 88px,#ffcc00 99px,#ffcc00 110px,#ffe500 121px,#ffff00 132px,#e5ff1a 143px,#b3ff4c 154px,#80ff80 165px,#4dffb3 176px,#33ffcc 187px,#00ffff 198px,#00e5ff 209px,#00e5ff 220px,#00ccff 231px,#00e5ff 242px,#00e5ff 253px,#00ffff 263px),linear-gradient(#00ffff 0px,#1affe5 11px,#33ffcc 22px,#66ff99 33px,#99ff66 44px,#ccff33 55px,#e5ff1a 66px,#ffff00 77px,#ffe500 88px,#ffcc00 99px,#ffcc00 110px,#ffcc00 121px,#ffe500 132px,#e5ff1a 143px,#ccff33 154px,#99ff66 165px,#66ff99 176px,#4dffb3 187px,#1affe5 198px,#00ffff 209px,#00e5ff 220px,#00ccff 231px,#00ccff 242px,#00e5ff 253px,#00ffff 263px),linear-gradient(#00e5ff 0px,#00ffff 11px,#1affe5 22px,#4dffb3 33px,#80ff80 44px,#b3ff4c 55px,#ccff33 66px,#ffff00 77px,#ffe500 88px,#ffcc00 99px,#ffcc00 110px,#ffcc00 121px,#ffe500 132px,#ffff00 143px,#e5ff1a 154px,#b3ff4c 165px,#99ff66 176px,#66ff99 187px,#33ffcc 198px,#1affe5 209px,#00e5ff 220px,#00e5ff 231px,#00ccff 242px,#00e5ff 253px,#00e5ff 263px),linear-gradient(#00e5ff 0px,#00e5ff 11px,#1affe5 22px,#33ffcc 33px,#66ff99 44px,#99ff66 55px,#b3ff4c 66px,#e5ff1a 77px,#ffff00 88px,#ffe500 99px,#ffcc00 110px,#ffcc00 121px,#ffcc00 132px,#ffe500 143px,#ffff00 154px,#ccff33 165px,#b3ff4c 176px,#80ff80 187px,#4dffb3 198px,#33ffcc 209px,#00ffff 220px,#00e5ff 231px,#00e5ff 242px,#00ccff 253px,#00e5ff 263px),linear-gradient(#00ccff 0px,#00e5ff 11px,#00ffff 22px,#1affe5 33px,#4dffb3 44px,#66ff99 55px,#99ff66 66px,#ccff33 77px,#e5ff1a 88px,#ffe500 99px,#ffcc00 110px,#ffcc00 121px,#ffcc00 132px,#ffe500 143px,#ffe500 154px,#e5ff1a 165px,#ccff33 176px,#99ff66 187px,#66ff99 198px,#33ffcc 209px,#1affe5 220px,#00ffff 231px,#00e5ff 242px,#00ccff 253px,#00ccff 263px),linear-gradient(#00ccff 0px,#00e5ff 11px,#00ffff 22px,#1affe5 33px,#33ffcc 44px,#66ff99 55px,#99ff66 66px,#b3ff4c 77px,#e5ff1a 88px,#ffff00 99px,#ffe500 110px,#ffcc00 121px,#ffcc00 132px,#ffcc00 143px,#ffe500 154px,#ffff00 165px,#ccff33 176px,#99ff66 187px,#80ff80 198px,#4dffb3 209px,#1affe5 220px,#00ffff 231px,#00e5ff 242px,#00e5ff 253px,#00ccff 263px);background-position:0px 0,8px 0,16px 0,24px 0,32px 0,40px 0,48px 0,56px 0,64px 0,72px 0,80px 0,88px 0,96px 0,104px 0,112px 0,120px 0,128px 0,136px 0,144px 0,152px 0,160px 0,168px 0,176px 0,184px 0,192px 0,200px 0,208px 0,216px 0,224px 0,232px 0,240px 0,248px 0,256px 0,264px 0,272px 0,280px 0,288px 0,296px 0,304px 0,312px 0,320px 0,328px 0,336px 0,344px 0,352px 0,360px 0,368px 0,376px 0,384px 0,392px 0,400px 0,408px 0,416px 0,424px 0,432px 0,440px 0,448px 0,456px 0,464px 0,472px 0,480px 0,488px 0,496px 0,504px 0,512px 0,520px 0,528px 0,536px 0,544px 0,552px 0,560px 0,568px 0,576px 0,584px 0,592px 0;background-size:8px 264px,8px 264px,8px 264px,8px 264px,8px 264px,8px 264px,8px 264px,8px 264px,8px 264px,8px 264px,8px 264px,8px 264px,8px 264px,8px 264px,8px 264px,8px 264px,8px 264px,8px 264px,8px 264px,8px 264px,8px 264px,8px 264px,8px 264px,8px 264px,8px 264px,8px 264px,8px 264px,8px 264px,8px 264px,8px 264px,8px 264px,8px 264px,8px 264px,8px 264px,8px 264px,8px 264px,8px 264px,8px 264px,8px 264px,8px 264px,8px 264px,8px 264px,8px 264px,8px 264px,8px 264px,8px 264px,8px 264px,8px 264px,8px 264px,8px 264px,8px 264px,8px 264px,8px 264px,8px 264px,8px 264px,8px 264px,8px 264px,8px 264px,8px 264px,8px 264px,8px 264px,8px 264px,8px 264px,8px 264px,8px 264px,8px 264px,8px 264px,8px 264px,8px 264px,8px 264px,8px 264px,8px 264px,8px 264px,8px 264px,1px 264px;background-repeat:no-repeat;}
#fc{background-image:linear-gradient(#80ff80 0px,#33ffcc 11px,#00ffff 22px,#00b3ff 33px,#0099ff 44px,#0080ff 55px,#0066ff 66px,#0080ff 77px,#0099ff 88px,#00b3ff 99px,#00ffff 110px,#33ffcc 121px,#80ff80 132px,#ccff33 143px,#ffe500 154px,#ffb300 165px,#ff8000 176px,#ff6600 187px,#ff6600 198px,#ff6600 209px,#ff8000 220px,#ffb300 231px,#ffe500 242px,#ccff33 253px,#99ff66 262px),linear-gradient(#80ff80 0px,#33ffcc 11px,#00ffff 22px,#00b3ff 33px,#0080ff 44px,#0066ff 55px,#0066ff 66px,#0066ff 77px,#0080ff 88px,#00b3ff 99px,#00ffff 110px,#33ffcc 121px,#80ff80 132px,#ccff33 143px,#ffe500 154px,#ffb300 165px,#ff8000 176px,#ff6600 187px,#ff4c00 198px,#ff6600 209px,#ff8000 220px,#ffb300 231px,#ffe500 242px,#ccff33 253px,#99ff66 262px),linear-gradient(#80ff80 0px,#33ffcc 11px,#00ffff 22px,#00b3ff 33px,#0080ff 44px,#0066ff 55px,#0066ff 66px,#0066ff 77px,#0080ff 88px,#00b3ff 99px,#00e5ff 110px,#33ffcc 121px,#80ff80 132px,#ccff33 143px,#ffe500 154px,#ff9900 165px,#ff8000 176px,#ff4c00 187px,#ff4c00 198px,#ff4c00 209px,#ff8000 220px,#ff9900 231px,#ffe500 242px,#ccff33 253px,#99ff66 262px),linear-gradient(#80ff80 0px,#33ffcc 11px,#00ffff 22px,#00b3ff 33px,#0080ff 44px,#0066ff 55px,#0066ff 66px,#0066ff 77px,#0080ff 88px,#00b3ff 99px,#00ffff 110px,#33ffcc 121px,#80ff80 132px,#ccff33 143px,#ffe500 154px,#ffb300 165px,#ff8000 176px,#ff6600 187px,#ff4c00 198px,#ff6600 209px,#ff8000 220px,#ffb300 231px,#ffe500 242px,#ccff33 253px,#99ff66 262px),linear-gradient(#80ff80 0px,#4dffb3 11px,#00ffff 22px,#00ccff 33px,#0099ff 44px,#0080ff 55px,#0066ff 66px,#0080ff 77px,#0099ff 88px,#00ccff 99px,#00ffff 110px,#33ffcc 121px,#80ff80 132px,#ccff33 143px,#ffe500 154px,#ffb300 165px,#ff8000 176px,#ff6600 187px,#ff6600 198px,#ff6600 209px,#ff8000 220px,#ffb300 231px,#ffe500 242px,#ccff33 253px,#99ff66 262px),linear-gradient(#80ff80 0px,#4dffb3 11px,#00ffff 22px,#00ccff 33px,#00b3ff 44px,#0099ff 55px,#0080ff 66px,#0099ff 77px,#00b3ff 88px,#00ccff 99px,#00ffff 110px,#4dffb3 121px,#80ff80 132px,#ccff33 143px,#ffff00 154px,#ffcc00 165px,#ff9900 176px,#ff8000 187px,#ff8000 198px,#ff8000 209px,#ff9900 220px,#ffcc00 231px,#ffff00 242px,#ccff33 253px,#99ff66 262px),linear-gradient(#80ff80 0px,#4dffb3 11px,#1affe5 22px,#00e5ff 33px,#00ccff 44px,#00b3ff 55px,#0099ff 66px,#00b3ff 77px,#00ccff 88px,#00e5ff 99px,#1affe5 110px,#4dffb3 121px,#80ff80 132px,#ccff33 143px,#ffff00 154px,#ffcc00 165px,#ffb300 176px,#ff9900 187px,#ff9900 198px,#ff9900 209px,#ffb300 220px,#ffcc00 231px,#ffff00 242px,#ccff33 253px,#99ff66 262px),linear-gradient(#80ff80 0px,#4dffb3 11px,#1affe5 22px,#00ffff 33px,#00e5ff 44px,#00ccff 55px,#00ccff 66px,#00ccff 77px,#00e5ff 88px,#00ffff 99px,#1affe5 110px,#4dffb3 121px,#80ff80 132px,#b3ff4c 143px,#e5ff1a 154px,#ffe500 165px,#ffcc00 176px,#ffb300 187px,#ffb300 198px,#ffb300 209px,#ffcc00 220px,#ffe500 231px,#e5ff1a 242px,#b3ff4c 253px,#99ff66 262px),linear-gradient(#80ff80 0px,#66ff99 11px,#33ffcc 22px,#1affe5 33px,#00ffff 44px,#00e5ff 55px,#00e5ff 66px,#00e5ff 77px,#00ffff 88px,#1affe5 99px,#33ffcc 110px,#66ff99 121px,#80ff80 132px,#b3ff4c 143px,#ccff33 154px,#ffff00 165px,#ffe500 176px,#ffe500 187px,#ffcc00 198px,#ffe500 209px,#ffe500 220px,#ffff00 231px,#ccff33 242px,#b3ff4c 253px,#99ff66 262px),linear-gradient(#80ff80 0px,#66ff99 11px,#4dffb3 22px,#33ffcc 33px,#1affe5 44px,#1affe5 55px,#1affe5 66px,#1affe5 77px,#1affe5 88px,#33ffcc 99px,#4dffb3 110px,#66ff99 121px,#80ff80 132px,#99ff66 143px,#ccff33 154px,#e5ff1a 165px,#e5ff1a 176px,#ffff00 187px,#ffff00 198px,#ffff00 209px,#e5ff1a 220px,#e5ff1a 231px,#ccff33 242px,#99ff66 253px,#99ff66 262px),linear-gradient(#80ff80 0px,#80ff80 11px,#66ff99 22px,#4dffb3 33px,#4dffb3 44px,#4dffb3 55px,#4dffb3 66px,#4dffb3 77px,#4dffb3 88px,#4dffb3 99px,#66ff99 110px,#80ff80 121px,#80ff80 132px,#99ff66 143px,#b3ff4c 154px,#b3ff4c 165px,#ccff33 176px,#ccff33 187px,#ccff33 198px,#ccff33 209px,#ccff33 220px,#b3ff4c 231px,#b3ff4c 242px,#99ff66 253px,#80ff80 262px),linear-gradient(#80ff80 0px,#80ff80 11px,#80ff80 22px,#80ff80 33px,#80ff80 44px,#66ff99 55px,#66ff99 66px,#66ff99 77px,#80ff80 88px,#80ff80 99px,#80ff80 110px,#80ff80 121px,#80ff80 132px,#99ff66 143px,#99ff66 154px,#99ff66 165px,#99ff66 176px,#99ff66 187px,#99ff66 198px,#99ff66 209px,#99ff66 220px,#99ff66 231px,#99ff66 242px,#99ff66 253px,#80ff80 262px),linear-gradient(#80ff80 0px,#99ff66 11px,#99ff66 22px,#99ff66 33px,#99ff66 44px,#99ff66 55px,#99ff66 66px,#99ff66 77px,#99ff66 88px,#99ff66 99px,#99ff66 110px,#99ff66 121px,#80ff80 132px,#80ff80 143px,#80ff80 154px,#80ff80 165px,#66ff99 176px,#66ff99 187px,#66ff99 198px,#66ff99 209px,#66ff99 220px,#80ff80 231px,#80ff80 242px,#80ff80 253px,#80ff80 262px),linear-gradient(#80ff80 0px,#99ff66 11px,#b3ff4c 22px,#b3ff4c 33px,#ccff33 44px,#ccff33 55px,#ccff33 66px,#ccff33 77px,#ccff33 88px,#b3ff4c 99px,#b3ff4c 110px,#99ff66 121px,#80ff80 132px,#80ff80 143px,#66ff99 154px,#4dffb3 165px,#4dffb3 176px,#4dffb3 187px,#33ffcc 198px,#4dffb3 209px,#4dffb3 220px,#4dffb3 231px,#66ff99 242px,#80ff80 253px,#80ff80 262px),linear-gradient(#80ff80 0px,#b3ff4c 11px,#ccff33 22px,#e5ff1a 33px,#e5ff1a 44px,#ffff00 55px,#ffff00 66px,#ffff00 77px,#e5ff1a 88px,#e5ff1a 99px,#ccff33 110px,#b3ff4c 121px,#80ff80 132px,#66ff99 143px,#4dffb3 154px,#33ffcc 165px,#1affe5 176px,#1affe5 187px,#1affe5 198px,#1affe5 209px,#1affe5 220px,#33ffcc 231px,#4dffb3 242px,#66ff99 253px,#80ff80 262px),linear-gradient(#80ff80 0px,#b3ff4c 11px,#ccff33 22px,#ffff00 33px,#ffe500 44px,#ffe500 55px,#ffcc00 66px,#ffe500 77px,#ffe500 88px,#ffff00 99px,#e5ff1a 110px,#b3ff4c 121px,#80ff80 132px,#66ff99 143px,#33ffcc 154px,#1affe5 165px,#00ffff 176px,#00e5ff 187px,#00e5ff 198px,#00e5ff 209px,#00ffff 220px,#1affe5 231px,#33ffcc 242px,#66ff99 253px,#80ff80 262px),linear-gradient(#80ff80 0px,#b3ff4c 11px,#e5ff1a 22px,#ffe500 33px,#ffcc00 44px,#ffb300 55px,#ffb300 66px,#ffb300 77px,#ffcc00 88px,#ffe500 99px,#e5ff1a 110px,#b3ff4c 121px,#80ff80 132px,#4dffb3 143px,#1affe5 154px,#00ffff 165px,#00e5ff 176px,#00ccff 187px,#00b3ff 198px,#00ccff 209px,#00e5ff 220px,#00ffff 231px,#1affe5 242px,#4dffb3 253px,#80ff80 262px),linear-gradient(#80ff80 0px,#ccff33 11px,#ffff00 22px,#ffcc00 33px,#ffb300 44px,#ff9900 55px,#ff9900 66px,#ff9900 77px,#ffb300 88px,#ffcc00 99px,#ffff00 110px,#ccff33 121px,#80ff80 132px,#4dffb3 143px,#1affe5 154px,#00e5ff 165px,#00b3ff 176px,#00b3ff 187px,#0099ff 198px,#0099ff 209px,#00b3ff 220px,#00e5ff 231px,#1affe5 242px,#4dffb3 253px,#80ff80 262px),linear-gradient(#80ff80 0px,#ccff33 11px,#ffff00 22px,#ffcc00 33px,#ff9900 44px,#ff8000 55px,#ff8000 66px,#ff8000 77px,#ff9900 88px,#ffb300 99px,#ffff00 110px,#ccff33 121px,#80ff80 132px,#4dffb3 143px,#00ffff 154px,#00ccff 165px,#00b3ff 176px,#0099ff 187px,#0080ff 198px,#0080ff 209px,#00b3ff 220px,#00ccff 231px,#00ffff 242px,#4dffb3 253px,#80ff80 262px),linear-gradient(#80ff80 0px,#ccff33 11px,#ffe500 22px,#ffb300 33px,#ff8000 44px,#ff6600 55px,#ff6600 66px,#ff6600 77px,#ff8000 88px,#ffb300 99px,#ffe500 110px,#ccff33 121px,#80ff80 132px,#4dffb3 143px,#00ffff 154px,#00ccff 165px,#0099ff 176px,#0080ff 187px,#0066ff 198px,#0080ff 209px,#0099ff 220px,#00ccff 231px,#00ffff 242px,#33ffcc 253px,#80ff80 262px),linear-gradient(#80ff80 0px,#ccff33 11px,#ffe500 22px,#ffb300 33px,#ff8000 44px,#ff6600 55px,#ff4c00 66px,#ff6600 77px,#ff8000 88px,#ffb300 99px,#ffe500 110px,#ccff33 121px,#80ff80 132px,#33ffcc 143px,#00ffff 154px,#00b3ff 165px,#0080ff 176px,#0066ff 187px,#0066ff 198px,#0066ff 209px,#0080ff 220px,#00b3ff 231px,#00ffff 242px,#33ffcc 253px,#80ff80 262px),linear-gradient(#80ff80 0px,#ccff33 11px,#ffe500 22px,#ff9900 33px,#ff8000 44px,#ff4c00 55px,#ff4c00 66px,#ff4c00 77px,#ff8000 88px,#ff9900 99px,#ffe500 110px,#ccff33 121px,#80ff80 132px,#33ffcc 143px,#00ffff 154px,#00b3ff 165px,#0080ff 176px,#0066ff 187px,#0066ff 198px,#0066ff 209px,#0080ff 220px,#00b3ff 231px,#00e5ff 242px,#33ffcc 253px,#80ff80 262px),linear-gradient(#80ff80 0px,#ccff33 11px,#ffe500 22px,#ffb300 33px,#ff8000 44px,#ff6600 55px,#ff4c00 66px,#ff6600 77px,#ff8000 88px,#ffb300 99px,#ffe500 110px,#ccff33 121px,#80ff80 132px,#33ffcc 143px,#00ffff 154px,#00b3ff 165px,#0080ff 176px,#0066ff 187px,#0066ff 198px,#0066ff 209px,#0080ff 220px,#00b3ff 231px,#00ffff 242px,#33ffcc 253px,#80ff80 262px),linear-gradient(#80ff80 0px,#ccff33 11px,#ffe500 22px,#ffb300 33px,#ff8000 44px,#ff6600 55px,#ff6600 66px,#ff6600 77px,#ff8000 88px,#ffb300 99px,#ffe500 110px,#ccff33 121px,#80ff80 132px,#33ffcc 143px,#00ffff 154px,#00ccff 165px,#0099ff 176px,#0080ff 187px,#0066ff 198px,#0080ff 209px,#0099ff 220px,#00ccff 231px,#00ffff 242px,#33ffcc 253px,#80ff80 262px),linear-gradient(#33ffcc 0px,#66ff99 11px,#99ff66 22px,#ccff33 33px,#ffff00 44px,#ffe500 55px,#ffcc00 66px,#ffcc00 77px,#ffb300 88px,#ffcc00 99px,#ffe500 110px,#ffff00 121px,#ccff33 132px,#b3ff4c 143px,#80ff80 154px,#4dffb3 165px,#1affe5 176px,#00ffff 187px,#00e5ff 198px,#00ccff 209px,#00ccff 220px,#00e5ff 231px,#00e5ff 242px,#1affe5 253px,#33ffcc 262px),linear-gradient(#00ffff 0px,#1affe5 11px,#33ffcc 22px,#4dffb3 33px,#66ff99 44px,#99ff66 55px,#b3ff4c 66px,#ccff33 77px,#e5ff1a 88px,#ffff00 99px,#ffff00 110px,#ffe500 121px,#ffff00 132px,#ffff00 143px,#e5ff1a 154px,#ccff33 165px,#99ff66 176px,#80ff80 187px,#66ff99 198px,#33ffcc 209px,#1affe5 220px,#1affe5 231px,#00ffff 242px,#00ffff 253px,#00ffff 262px),linear-gradient(#00e5ff 0px,#00e5ff 11px,#00ccff 22px,#00e5ff 33px,#00e5ff 44px,#00ffff 55px,#33ffcc 66px,#4dffb3 77px,#80ff80 88px,#b3ff4c 99px,#e5ff1a 110px,#ffff00 121px,#ffe500 132px,#ffcc00 143px,#ffcc00 154px,#ffcc00 165px,#ffe500 176px,#ffff00 187px,#e5ff1a 198px,#b3ff4c 209px,#80ff80 220px,#66ff99 231px,#33ffcc 242px,#00ffff 253px,#00e5ff 262px),linear-gradient(#00e5ff 0px,#00b3ff 11px,#0099ff 22px,#0080ff 33px,#0080ff 44px,#0099ff 55px,#00b3ff 66px,#00e5ff 77px,#1affe5 88px,#66ff99 99px,#99ff66 110px,#e5ff1a 121px,#ffe500 132px,#ffb300 143px,#ff8000 154px,#ff8000 165px,#ff8000 176px,#ff8000 187px,#ff9900 198px,#ffcc00 209px,#e5ff1a 220px,#b3ff4c 231px,#66ff99 242px,#33ffcc 253px,#00ffff 262px),linear-gradient(#00ffff 0px,#00b3ff 11px,#0080ff 22px,#0066ff 33px,#004dff 44px,#004dff 55px,#0066ff 66px,#0099ff 77px,#00ccff 88px,#1affe5 99px,#66ff99 110px,#b3ff4c 121px,#ffff00 132px,#ffb300 143px,#ff8000 154px,#ff4c00 165px,#ff3300 176px,#ff3300 187px,#ff4c00 198px,#ff8000 209px,#ffb300 220px,#ffff00 231px,#b3ff4c 242px,#4dffb3 253px,#1affe5 262px),linear-gradient(#33ffcc 0px,#00e5ff 11px,#0099ff 22px,#0066ff 33px,#004dff 44px,#0033ff 55px,#004dff 66px,#0066ff 77px,#0099ff 88px,#00e5ff 99px,#33ffcc 110px,#80ff80 121px,#e5ff1a 132px,#ffcc00 143px,#ff8000 154px,#ff4c00 165px,#ff3300 176px,#ff3300 187px,#ff3300 198px,#ff4c00 209px,#ff8000 220px,#ffcc00 231px,#e5ff1a 242px,#80ff80 253px,#4dffb3 262px),linear-gradient(#66ff99 0px,#1affe5 11px,#00e5ff 22px,#0099ff 33px,#0080ff 44px,#0066ff 55px,#004dff 66px,#0066ff 77px,#0080ff 88px,#00ccff 99px,#00ffff 110px,#4dffb3 121px,#99ff66 132px,#e5ff1a 143px,#ffcc00 154px,#ff9900 165px,#ff6600 176px,#ff4c00 187px,#ff4c00 198px,#ff4c00 209px,#ff8000 220px,#ffb300 231px,#ffff00 242px,#ccff33 253px,#80ff80 262px),linear-gradient(#b3ff4c 0px,#80ff80 11px,#33ffcc 22px,#00ffff 33px,#00ccff 44px,#00b3ff 55px,#0099ff 66px,#0099ff 77px,#00b3ff 88px,#00ccff 99px,#00e5ff 110px,#1affe5 121px,#66ff99 132px,#99ff66 143px,#ccff33 154px,#ffe500 165px,#ffcc00 176px,#ff9900 187px,#ff9900 198px,#ff8000 209px,#ff9900 220px,#ffb300 231px,#ffe500 242px,#e5ff1a 253px,#b3ff4c 262px),linear-gradient(#e5ff1a 0px,#ccff33 11px,#99ff66 22px,#80ff80 33px,#4dffb3 44px,#33ffcc 55px,#1affe5 66px,#00ffff 77px,#00e5ff 88px,#00e5ff 99px,#00ffff 110px,#00ffff 121px,#1affe5 132px,#4dffb3 143px,#66ff99 154px,#99ff66 165px,#b3ff4c 176px,#e5ff1a 187px,#ffff00 198px,#ffe500 209px,#ffe500 220px,#ffe500 231px,#ffe500 242px,#ffff00 253px,#e5ff1a 262px),linear-gradient(#ffe500 0px,#ffe500 11px,#ffff00 22px,#ffff00 33px,#ccff33 44px,#b3ff4c 55px,#99ff66 66px,#66ff99 77px,#4dffb3 88px,#33ffcc 99px,#1affe5 110px,#00ffff 121px,#00ffff 132px,#00ffff 143px,#00ffff 154px,#1affe5 165px,#33ffcc 176px,#4dffb3 187px,#80ff80 198px,#99ff66 209px,#ccff33 220px,#e5ff1a 231px,#ffff00 242px,#ffff00 253px,#ffe500 262px),linear-gradient(#ffe500 0px,#ffb300 11px,#ffb300 22px,#ff9900 33px,#ffb300 44px,#ffcc00 55px,#ffe500 66px,#e5ff1a 77px,#b3ff4c 88px,#80ff80 99px,#4dffb3 110px,#1affe5 121px,#00e5ff 132px,#00ccff 143px,#00b3ff 154px,#00b3ff 165px,#00b3ff 176px,#00ccff 187px,#00ffff 198px,#33ffcc 209px,#66ff99 220px,#99ff66 231px,#ccff33 242px,#ffff00 253px,#ffe500 262px),linear-gradient(#ffe500 0px,#ffb300 11px,#ff8000 22px,#ff6600 33px,#ff4c00 44px,#ff6600 55px,#ff8000 66px,#ffb300 77px,#ffe500 88px,#ccff33 99px,#80ff80 110px,#33ffcc 121px,#00ffff 132px,#00b3ff 143px,#0080ff 154px,#0066ff 165px,#0066ff 176px,#0066ff 187px,#0099ff 198px,#00b3ff 209px,#00ffff 220px,#4dffb3 231px,#80ff80 242px,#ccff33 253px,#ffe500 262px),linear-gradient(#ffff00 0px,#ffb300 11px,#ff8000 22px,#ff4c00 33px,#ff3300 44px,#ff3300 55px,#ff3300 66px,#ff6600 77px,#ff9900 88px,#ffe500 99px,#ccff33 110px,#66ff99 121px,#1affe5 132px,#00ccff 143px,#0080ff 154px,#0066ff 165px,#0033ff 176px,#0033ff 187px,#004dff 198px,#0080ff 209px,#00b3ff 220px,#00ffff 231px,#4dffb3 242px,#99ff66 253px,#e5ff1a 262px),linear-gradient(#ccff33 0px,#ffe500 11px,#ff9900 22px,#ff6600 33px,#ff4c00 44px,#ff3300 55px,#ff3300 66px,#ff4c00 77px,#ff8000 88px,#ffb300 99px,#ffff00 110px,#99ff66 121px,#4dffb3 132px,#00ffff 143px,#00b3ff 154px,#0080ff 165px,#004dff 176px,#0033ff 187px,#004dff 198px,#0066ff 209px,#0099ff 220px,#00ccff 231px,#1affe5 242px,#66ff99 253px,#b3ff4c 262px),linear-gradient(#80ff80 0px,#ccff33 11px,#ffe500 22px,#ffb300 33px,#ff8000 44px,#ff6600 55px,#ff6600 66px,#ff6600 77px,#ff8000 88px,#ffb300 99px,#ffe500 110px,#ccff33 121px,#80ff80 132px,#4dffb3 143px,#00ffff 154px,#00ccff 165px,#0099ff 176px,#0080ff 187px,#0066ff 198px,#0080ff 209px,#0099ff 220px,#00b3ff 231px,#00ffff 242px,#33ffcc 253px,#80ff80 262px),linear-gradient(#4dffb3 0px,#80ff80 11px,#b3ff4c 22px,#e5ff1a 33px,#ffff00 44px,#ffcc00 55px,#ffb300 66px,#ffb300 77px,#ffb300 88px,#ffcc00 99px,#ffe500 110px,#ffff00 121px,#ccff33 132px,#99ff66 143px,#66ff99 154px,#33ffcc 165px,#00ffff 176px,#00e5ff 187px,#00ccff 198px,#00b3ff 209px,#00ccff 220px,#00ccff 231px,#00e5ff 242px,#1affe5 253px,#33ffcc 262px),linear-gradient(#1affe5 0px,#33ffcc 11px,#4dffb3 22px,#66ff99 33px,#80ff80 44px,#b3ff4c 55px,#ccff33 66px,#e5ff1a 77px,#ffff00 88px,#ffff00 99px,#ffe500 110px,#ffff00 121px,#ffff00 132px,#e5ff1a 143px,#ccff33 154px,#b3ff4c 165px,#80ff80 176px,#66ff99 187px,#4dffb3 198px,#33ffcc 209px,#1affe5 220px,#00ffff 231px,#00ffff 242px,#00ffff 253px,#1affe5 262px),linear-gradient(#00e5ff 0px,#00e5ff 11px,#00e5ff 22px,#00e5ff 33px,#00ffff 44px,#1affe5 55px,#4dffb3 66px,#66ff99 77px,#99ff66 88px,#ccff33 99px,#e5ff1a 110px,#ffff00 121px,#ffe500 132px,#ffcc00 143px,#ffcc00 154px,#ffe500 165px,#ffe500 176px,#e5ff1a 187px,#ccff33 198px,#99ff66 209px,#80ff80 220px,#4dffb3 231px,#33ffcc 242px,#00ffff 253px,#00ffff 262px),linear-gradient(#00e5ff 0px,#00b3ff 11px,#0099ff 22px,#0099ff 33px,#0099ff 44px,#00b3ff 55px,#00ccff 66px,#00ffff 77px,#33ffcc 88px,#66ff99 99px,#b3ff4c 110px,#e5ff1a 121px,#ffe500 132px,#ffb300 143px,#ff9900 154px,#ff8000 165px,#ff8000 176px,#ff9900 187px,#ffb300 198px,#ffe500 209px,#e5ff1a 220px,#99ff66 231px,#66ff99 242px,#1affe5 253px,#00ffff 262px),linear-gradient(#00ffff 0px,#00b3ff 11px,#0080ff 22px,#0066ff 33px,#004dff 44px,#004dff 55px,#0066ff 66px,#0099ff 77px,#00e5ff 88px,#1affe5 99px,#66ff99 110px,#ccff33 121px,#ffe500 132px,#ffb300 143px,#ff8000 154px,#ff4c00 165px,#ff4c00 176px,#ff4c00 187px,#ff6600 198px,#ff8000 209px,#ffcc00 220px,#e5ff1a 231px,#99ff66 242px,#4dffb3 253px,#00ffff 262px),linear-gradient(#33ffcc 0px,#00ccff 11px,#0099ff 22px,#0066ff 33px,#0033ff 44px,#0033ff 55px,#004dff 66px,#0066ff 77px,#0099ff 88px,#00e5ff 99px,#33ffcc 110px,#99ff66 121px,#e5ff1a 132px,#ffcc00 143px,#ff8000 154px,#ff4c00 165px,#ff3300 176px,#ff1a00 187px,#ff3300 198px,#ff4c00 209px,#ff9900 220px,#ffcc00 231px,#ccff33 242px,#80ff80 253px,#33ffcc 262px),linear-gradient(#66ff99 0px,#1affe5 11px,#00ccff 22px,#0099ff 33px,#0066ff 44px,#004dff 55px,#004dff 66px,#0066ff 77px,#0080ff 88px,#00ccff 99px,#00ffff 110px,#4dffb3 121px,#b3ff4c 132px,#ffff00 143px,#ffb300 154px,#ff8000 165px,#ff4c00 176px,#ff3300 187px,#ff3300 198px,#ff4c00 209px,#ff8000 220px,#ffb300 231px,#ffff00 242px,#b3ff4c 253px,#80ff80 262px),linear-gradient(#99ff66 0px,#66ff99 11px,#1affe5 22px,#00e5ff 33px,#00b3ff 44px,#0099ff 55px,#0099ff 66px,#0099ff 77px,#0099ff 88px,#00ccff 99px,#00e5ff 110px,#33ffcc 121px,#66ff99 132px,#b3ff4c 143px,#e5ff1a 154px,#ffe500 165px,#ffb300 176px,#ff9900 187px,#ff8000 198px,#ff8000 209px,#ff9900 220px,#ffb300 231px,#ffe500 242px,#e5ff1a 253px,#b3ff4c 262px),linear-gradient(#e5ff1a 0px,#b3ff4c 11px,#99ff66 22px,#66ff99 33px,#33ffcc 44px,#1affe5 55px,#00ffff 66px,#00e5ff 77px,#00e5ff 88px,#00e5ff 99px,#00e5ff 110px,#00ffff 121px,#33ffcc 132px,#4dffb3 143px,#80ff80 154px,#b3ff4c 165px,#ccff33 176px,#ffff00 187px,#ffe500 198px,#ffcc00 209px,#ffcc00 220px,#ffcc00 231px,#ffe500 242px,#ffff00 253px,#e5ff1a 262px),linear-gradient(#ffe500 0px,#ffff00 11px,#ffff00 22px,#e5ff1a 33px,#b3ff4c 44px,#99ff66 55px,#80ff80 66px,#4dffb3 77px,#33ffcc 88px,#1affe5 99px,#00ffff 110px,#00ffff 121px,#00ffff 132px,#00ffff 143px,#1affe5 154px,#33ffcc 165px,#4dffb3 176px,#80ff80 187px,#99ff66 198px,#b3ff4c 209px,#e5ff1a 220px,#ffff00 231px,#ffff00 242px,#ffe500 253px,#ffe500 262px),linear-gradient(#ffe500 0px,#ffe500 11px,#ffff00 22px,#e5ff1a 33px,#ccff33 44px,#b3ff4c 55px,#80ff80 66px,#66ff99 77px,#4dffb3 88px,#1affe5 99px,#1affe5 110px,#00ffff 121px,#00ffff 132px,#00ffff 143px,#00ffff 154px,#1affe5 165px,#33ffcc 176px,#66ff99 187px,#80ff80 198px,#b3ff4c 209px,#ccff33 220px,#e5ff1a 231px,#ffff00 242px,#ffe500 253px,#ffe500 262px),linear-gradient(#ffe500 0px,#ffe500 11px,#ffe500 22px,#ffff00 33px,#e5ff1a 44px,#ccff33 55px,#99ff66 66px,#80ff80 77px,#4dffb3 88px,#33ffcc 99px,#1affe5 110px,#00ffff 121px,#00ffff 132px,#00ffff 143px,#00ffff 154px,#1affe5 165px,#33ffcc 176px,#4dffb3 187px,#66ff99 198px,#99ff66 209px,#b3ff4c 220px,#e5ff1a 231px,#ffff00 242px,#ffff00 253px,#ffe500 262px),linear-gradient(#ffe500 0px,#ffe500 11px,#ffe500 22px,#ffff00 33px,#e5ff1a 44px,#ccff33 55px,#b3ff4c 66px,#99ff66 77px,#66ff99 88px,#4dffb3 99px,#33ffcc 110px,#1affe5 121px,#00ffff 132px,#00ffff 143px,#00ffff 154px,#00ffff 165px,#1affe5 176px,#33ffcc 187px,#66ff99 198px,#80ff80 209px,#b3ff4c 220px,#ccff33 231px,#e5ff1a 242px,#ffff00 253px,#ffe500 262px),linear-gradient(#ffff00 0px,#ffe500 11px,#ffe500 22px,#ffe500 33px,#ffff00 44px,#e5ff1a 55px,#ccff33 66px,#99ff66 77px,#80ff80 88px,#66ff99 99px,#33ffcc 110px,#1affe5 121px,#00ffff 132px,#00ffff 143px,#00ffff 154px,#00ffff 165px,#1affe5 176px,#33ffcc 187px,#4dffb3 198px,#66ff99 209px,#99ff66 220px,#b3ff4c 231px,#ccff33 242px,#ffff00 253px,#ffff00 262px),linear-gradient(#ffff00 0px,#ffe500 11px,#ffe500 22px,#ffe500 33px,#ffff00 44px,#ffff00 55px,#e5ff1a 66px,#b3ff4c 77px,#99ff66 88px,#66ff99 99px,#4dffb3 110px,#33ffcc 121px,#1affe5 132px,#00ffff 143px,#00ffff 154px,#00ffff 165px,#00ffff 176px,#1affe5 187px,#33ffcc 198px,#4dffb3 209px,#80ff80 220px,#99ff66 231px,#ccff33 242px,#e5ff1a 253px,#ffff00 262px),linear-gradient(#e5ff1a 0px,#ffff00 11px,#ffe500 22px,#ffe500 33px,#ffe500 44px,#ffff00 55px,#e5ff1a 66px,#ccff33 77px,#b3ff4c 88px,#80ff80 99px,#66ff99 110px,#33ffcc 121px,#1affe5 132px,#00ffff 143px,#00ffff 154px,#00ffff 165px,#00ffff 176px,#1affe5 187px,#1affe5 198px,#4dffb3 209px,#66ff99 220px,#99ff66 231px,#b3ff4c 242px,#ccff33 253px,#e5ff1a 262px),linear-gradient(#e5ff1a 0px,#ffff00 11px,#ffe500 22px,#ffe500 33px,#ffe500 44px,#ffff00 55px,#ffff00 66px,#e5ff1a 77px,#b3ff4c 88px,#99ff66 99px,#66ff99 110px,#4dffb3 121px,#33ffcc 132px,#1affe5 143px,#00ffff 154px,#00ffff 165px,#00ffff 176px,#00ffff 187px,#1affe5 198px,#33ffcc 209px,#4dffb3 220px,#80ff80 231px,#99ff66 242px,#ccff33 253px,#e5ff1a 262px),linear-gradient(#ccff33 0px,#e5ff1a 11px,#ffff00 22px,#ffe500 33px,#ffe500 44px,#ffe500 55px,#ffff00 66px,#e5ff1a 77px,#ccff33 88px,#b3ff4c 99px,#80ff80 110px,#66ff99 121px,#4dffb3 132px,#1affe5 143px,#00ffff 154px,#00ffff 165px,#00ffff 176px,#00ffff 187px,#00ffff 198px,#1affe5 209px,#4dffb3 220px,#66ff99 231px,#80ff80 242px,#b3ff4c 253px,#ccff33 262px),linear-gradient(#b3ff4c 0px,#e5ff1a 11px,#ffff00 22px,#ffff00 33px,#ffe500 44px,#ffe500 55px,#ffe500 66px,#ffff00 77px,#e5ff1a 88px,#ccff33 99px,#99ff66 110px,#80ff80 121px,#4dffb3 132px,#33ffcc 143px,#1affe5 154px,#00ffff 165px,#00ffff 176px,#00ffff 187px,#00ffff 198px,#1affe5 209px,#33ffcc 220px,#4dffb3 231px,#66ff99 242px,#99ff66 253px,#b3ff4c 262px),linear-gradient(#b3ff4c 0px,#ccff33 11px,#e5ff1a 22px,#ffff00 33px,#ffe500 44px,#ffe500 55px,#ffe500 66px,#ffff00 77px,#e5ff1a 88px,#ccff33 99px,#b3ff4c 110px,#99ff66 121px,#66ff99 132px,#4dffb3 143px,#1affe5 154px,#1affe5 165px,#00ffff 176px,#00ffff 187px,#00ffff 198px,#00ffff 209px,#1affe5 220px,#33ffcc 231px,#66ff99 242px,#80ff80 253px,#99ff66 262px),linear-gradient(#99ff66 0px,#b3ff4c 11px,#e5ff1a 22px,#ffff00 33px,#ffff00 44px,#ffe500 55px,#ffe500 66px,#ffe500 77px,#ffff00 88px,#e5ff1a 99px,#ccff33 110px,#99ff66 121px,#80ff80 132px,#4dffb3 143px,#33ffcc 154px,#1affe5 165px,#00ffff 176px,#00ffff 187px,#00ffff 198px,#00ffff 209px,#1affe5 220px,#33ffcc 231px,#4dffb3 242px,#66ff99 253px,#99ff66 262px),linear-gradient(#80ff80 0px,#99ff66 11px,#ccff33 22px,#e5ff1a 33px,#ffff00 44px,#ffe500 55px,#ffe500 66px,#ffe500 77px,#ffff00 88px,#ffff00 99px,#ccff33 110px,#b3ff4c 121px,#99ff66 132px,#66ff99 143px,#4dffb3 154px,#33ffcc 165px,#1affe5 176px,#00ffff 187px,#00ffff 198px,#00ffff 209px,#00ffff 220px,#1affe5 231px,#33ffcc 242px,#66ff99 253px,#80ff80 262px),linear-gradient(#66ff99 0px,#99ff66 11px,#b3ff4c 22px,#ccff33 33px,#e5ff1a 44px,#ffff00 55px,#ffe500 66px,#ffe500 77px,#ffe500 88px,#ffff00 99px,#e5ff1a 110px,#ccff33 121px,#b3ff4c 132px,#80ff80 143px,#66ff99 154px,#33ffcc 165px,#1affe5 176px,#00ffff 187px,#00ffff 198px,#00ffff 209px,#00ffff 220px,#1affe5 231px,#33ffcc 242px,#4dffb3 253px,#66ff99 262px),linear-gradient(#4dffb3 0px,#80ff80 11px,#99ff66 22px,#ccff33 33px,#e5ff1a 44px,#ffff00 55px,#ffe500 66px,#ffe500 77px,#ffe500 88px,#ffff00 99px,#ffff00 110px,#e5ff1a 121px,#b3ff4c 132px,#99ff66 143px,#66ff99 154px,#4dffb3 165px,#33ffcc 176px,#1affe5 187px,#00ffff 198px,#00ffff 209px,#00ffff 220px,#00ffff 231px,#1affe5 242px,#33ffcc 253px,#4dffb3 262px),linear-gradient(#4dffb3 0px,#66ff99 11px,#80ff80 22px,#b3ff4c 33px,#ccff33 44px,#e5ff1a 55px,#ffff00 66px,#ffe500 77px,#ffe500 88px,#ffe500 99px,#ffff00 110px,#e5ff1a 121px,#ccff33 132px,#b3ff4c 143px,#80ff80 154px,#66ff99 165px,#33ffcc 176px,#1affe5 187px,#00ffff 198px,#00ffff 209px,#00ffff 220px,#00ffff 231px,#1affe5 242px,#1affe5 253px,#33ffcc 262px),linear-gradient(#33ffcc 0px,#4dffb3 11px,#80ff80 22px,#99ff66 33px,#b3ff4c 44px,#e5ff1a 55px,#ffff00 66px,#ffff00 77px,#ffe500 88px,#ffe500 99px,#ffff00 110px,#ffff00 121px,#e5ff1a 132px,#b3ff4c 143px,#99ff66 154px,#80ff80 165px,#4dffb3 176px,#33ffcc 187px,#1affe5 198px,#00ffff 209px,#00ffff 220px,#00ffff 231px,#00ffff 242px,#1affe5 253px,#33ffcc 262px),linear-gradient(#1affe5 0px,#33ffcc 11px,#66ff99 22px,#80ff80 33px,#b3ff4c 44px,#ccff33 55px,#e5ff1a 66px,#ffff00 77px,#ffe500 88px,#ffe500 99px,#ffe500 110px,#ffff00 121px,#e5ff1a 132px,#ccff33 143px,#b3ff4c 154px,#80ff80 165px,#66ff99 176px,#4dffb3 187px,#1affe5 198px,#1affe5 209px,#00ffff 220px,#00ffff 231px,#00ffff 242px,#00ffff 253px,#1affe5 262px),linear-gradient(#1affe5 0px,#33ffcc 11px,#4dffb3 22px,#66ff99 33px,#99ff66 44px,#b3ff4c 55px,#e5ff1a 66px,#ffff00 77px,#ffff00 88px,#ffe500 99px,#ffe500 110px,#ffe500 121px,#ffff00 132px,#e5ff1a 143px,#ccff33 154px,#99ff66 165px,#80ff80 176px,#4dffb3 187px,#33ffcc 198px,#1affe5 209px,#00ffff 220px,#00ffff 231px,#00ffff 242px,#00ffff 253px,#1affe5 262px),linear-gradient(#00ffff 0px,#1affe5 11px,#33ffcc 22px,#66ff99 33px,#80ff80 44px,#99ff66 55px,#ccff33 66px,#e5ff1a 77px,#ffff00 88px,#ffe500 99px,#ffe500 110px,#ffe500 121px,#ffff00 132px,#e5ff1a 143px,#ccff33 154px,#b3ff4c 165px,#99ff66 176px,#66ff99 187px,#4dffb3 198px,#33ffcc 209px,#1affe5 220px,#00ffff 231px,#00ffff 242px,#00ffff 253px,#00ffff 262px),linear-gradient(#00ffff 0px,#1affe5 11px,#33ffcc 22px,#4dffb3 33px,#66ff99 44px,#99ff66 55px,#b3ff4c 66px,#ccff33 77px,#ffff00 88px,#ffff00 99px,#ffe500 110px,#ffe500 121px,#ffe500 132px,#ffff00 143px,#e5ff1a 154px,#ccff33 165px,#99ff66 176px,#80ff80 187px,#66ff99 198px,#33ffcc 209px,#1affe5 220px,#00ffff 231px,#00ffff 242px,#00ffff 253px,#00ffff 262px),linear-gradient(#00ffff 0px,#00ffff 11px,#1affe5 22px,#33ffcc 33px,#4dffb3 44px,#80ff80 55px,#99ff66 66px,#ccff33 77px,#e5ff1a 88px,#ffff00 99px,#ffe500 110px,#ffe500 121px,#ffe500 132px,#ffff00 143px,#ffff00 154px,#e5ff1a 165px,#b3ff4c 176px,#99ff66 187px,#66ff99 198px,#4dffb3 209px,#33ffcc 220px,#1affe5 231px,#00ffff 242px,#00ffff 253px,#00ffff 262px),linear-gradient(#00ffff 0px,#00ffff 11px,#1affe5 22px,#1affe5 33px,#4dffb3 44px,#66ff99 55px,#80ff80 66px,#b3ff4c 77px,#ccff33 88px,#e5ff1a 99px,#ffff00 110px,#ffe500 121px,#ffe500 132px,#ffe500 143px,#ffff00 154px,#e5ff1a 165px,#ccff33 176px,#b3ff4c 187px,#80ff80 198px,#66ff99 209px,#33ffcc 220px,#1affe5 231px,#00ffff 242px,#00ffff 253px,#00ffff 262px),linear-gradient(#00ffff 0px,#00ffff 11px,#00ffff 22px,#1affe5 33px,#33ffcc 44px,#4dffb3 55px,#80ff80 66px,#99ff66 77px,#ccff33 88px,#e5ff1a 99px,#ffff00 110px,#ffe500 121px,#ffe500 132px,#ffe500 143px,#ffff00 154px,#ffff00 165px,#e5ff1a 176px,#b3ff4c 187px,#99ff66 198px,#80ff80 209px,#4dffb3 220px,#33ffcc 231px,#1affe5 242px,#00ffff 253px,#00ffff 262px),linear-gradient(#00ffff 0px,#00ffff 11px,#00ffff 22px,#00ffff 33px,#1affe5 44px,#4dffb3 55px,#66ff99 66px,#80ff80 77px,#b3ff4c 88px,#ccff33 99px,#e5ff1a 110px,#ffff00 121px,#ffe500 132px,#ffe500 143px,#ffe500 154px,#ffff00 165px,#e5ff1a 176px,#ccff33 187px,#b3ff4c 198px,#80ff80 209px,#66ff99 220px,#4dffb3 231px,#1affe5 242px,#00ffff 253px,#00ffff 262px),linear-gradient(#00ffff 0px,#00ffff 11px,#00ffff 22px,#00ffff 33px,#1affe5 44px,#33ffcc 55px,#4dffb3 66px,#80ff80 77px,#99ff66 88px,#b3ff4c 99px,#e5ff1a 110px,#ffff00 121px,#ffff00 132px,#ffe500 143px,#ffe500 154px,#ffff00 165px,#ffff00 176px,#e5ff1a 187px,#b3ff4c 198px,#99ff66 209px,#80ff80 220px,#4dffb3 231px,#33ffcc 242px,#1affe5 253px,#00ffff 262px);background-position:0px 0,8px 0,16px 0,24px 0,32px 0,40px 0,48px 0,56px 0,64px 0,72px 0,80px 0,88px 0,96px 0,104px 0,112px 0,120px 0,128px 0,136px 0,144px 0,152px 0,160px 0,168px 0,176px 0,184px 0,192px 0,200px 0,208px 0,216px 0,224px 0,232px 0,240px 0,248px 0,256px 0,264px 0,272px 0,280px 0,288px 0,296px 0,304px 0,312px 0,320px 0,328px 0,336px 0,344px 0,352px 0,360px 0,368px 0,376px 0,384px 0,392px 0,400px 0,408px 0,416px 0,424px 0,432px 0,440px 0,448px 0,456px 0,464px 0,472px 0,480px 0,488px 0,496px 0,504px 0,512px 0,520px 0,528px 0,536px 0,544px 0,552px 0,560px 0,568px 0,576px 0,584px 0;background-size:8px 263px,8px 263px,8px 263px,8px 263px,8px 263px,8px 263px,8px 263px,8px 263px,8px 263px,8px 263px,8px 263px,8px 263px,8px 263px,8px 263px,8px 263px,8px 263px,8px 263px,8px 263px,8px 263px,8px 263px,8px 263px,8px 263px,8px 263px,8px 263px,8px 263px,8px 263px,8px 263px,8px 263px,8px 263px,8px 263px,8px 263px,8px 263px,8px 263px,8px 263px,8px 263px,8px 263px,8px 263px,8px 263px,8px 263px,8px 263px,8px 263px,8px 263px,8px 263px,8px 263px,8px 263px,8px 263px,8px 263px,8px 263px,8px 263px,8px 263px,8px 263px,8px 263px,8px 263px,8px 263px,8px 263px,8px 263px,8px 263px,8px 263px,8px 263px,8px 263px,8px 263px,8px 263px,8px 263px,8px 263px,8px 263px,8px 263px,8px 263px,8px 263px,8px 263px,8px 263px,8px 263px,8px 263px,8px 263px,6px 263px;background-repeat:no-repeat;}
</style></head><body>
<canvas id="fa" style="left:282px;top:13px;width:591px;height:264px" width="591" height="264"></canvas>
<canvas id="fb" style="left:281px;top:458px;width:593px;height:264px" width="593" height="264"></canvas>
<canvas id="fc" style="left:281px;top:907px;width:590px;height:263px" width="590" height="263"></canvas>
<svg id="ov" width="942" height="1322" viewBox="0 0 942 1322">
<g fill="none" stroke="#555" stroke-width="1.4">
<rect x="57" y="4.7" width="884" height="416.8" rx="30" ry="30"/>
<rect x="57" y="452.2" width="884" height="416.5" rx="30" ry="30"/>
<rect x="57" y="899.5" width="884" height="416.9" rx="30" ry="30"/>
</g>
<g id="plots"><g><line x1="345.72" y1="288.7" x2="345.72" y2="386.6" stroke="#f5f5f5" stroke-width="1"/><line x1="411.44" y1="288.7" x2="411.44" y2="386.6" stroke="#f5f5f5" stroke-width="1"/><line x1="477.16" y1="288.7" x2="477.16" y2="386.6" stroke="#f5f5f5" stroke-width="1"/><line x1="542.88" y1="288.7" x2="542.88" y2="386.6" stroke="#f5f5f5" stroke-width="1"/><line x1="608.61" y1="288.7" x2="608.61" y2="386.6" stroke="#f5f5f5" stroke-width="1"/><line x1="674.33" y1="288.7" x2="674.33" y2="386.6" stroke="#f5f5f5" stroke-width="1"/><line x1="740.05" y1="288.7" x2="740.05" y2="386.6" stroke="#f5f5f5" stroke-width="1"/><line x1="805.77" y1="288.7" x2="805.77" y2="386.6" stroke="#f5f5f5" stroke-width="1"/><line x1="280" y1="307.4" x2="871.5" y2="307.4" stroke="#f5f5f5" stroke-width="1"/><line x1="280" y1="337.7" x2="871.5" y2="337.7" stroke="#f5f5f5" stroke-width="1"/><line x1="280" y1="368" x2="871.5" y2="368" stroke="#f5f5f5" stroke-width="1"/><line x1="345.72" y1="288.7" x2="345.72" y2="294.2" stroke="#9a9a9a" stroke-width="1"/><line x1="345.72" y1="386.6" x2="345.72" y2="381.1" stroke="#9a9a9a" stroke-width="1"/><line x1="411.44" y1="288.7" x2="411.44" y2="294.2" stroke="#9a9a9a" stroke-width="1"/><line x1="411.44" y1="386.6" x2="411.44" y2="381.1" stroke="#9a9a9a" stroke-width="1"/><line x1="477.16" y1="288.7" x2="477.16" y2="294.2" stroke="#9a9a9a" stroke-width="1"/><line x1="477.16" y1="386.6" x2="477.16" y2="381.1" stroke="#9a9a9a" stroke-width="1"/><line x1="542.88" y1="288.7" x2="542.88" y2="294.2" stroke="#9a9a9a" stroke-width="1"/><line x1="542.88" y1="386.6" x2="542.88" y2="381.1" stroke="#9a9a9a" stroke-width="1"/><line x1="608.61" y1="288.7" x2="608.61" y2="294.2" stroke="#9a9a9a" stroke-width="1"/><line x1="608.61" y1="386.6" x2="608.61" y2="381.1" stroke="#9a9a9a" stroke-width="1"/><line x1="674.33" y1="288.7" x2="674.33" y2="294.2" stroke="#9a9a9a" stroke-width="1"/><line x1="674.33" y1="386.6" x2="674.33" y2="381.1" stroke="#9a9a9a" stroke-width="1"/><line x1="740.05" y1="288.7" x2="740.05" y2="294.2" stroke="#9a9a9a" stroke-width="1"/><line x1="740.05" y1="386.6" x2="740.05" y2="381.1" stroke="#9a9a9a" stroke-width="1"/><line x1="805.77" y1="288.7" x2="805.77" y2="294.2" stroke="#9a9a9a" stroke-width="1"/><line x1="805.77" y1="386.6" x2="805.77" y2="381.1" stroke="#9a9a9a" stroke-width="1"/><line x1="280" y1="307.4" x2="285.5" y2="307.4" stroke="#9a9a9a" stroke-width="1"/><line x1="871.5" y1="307.4" x2="866" y2="307.4" stroke="#9a9a9a" stroke-width="1"/><line x1="280" y1="337.7" x2="285.5" y2="337.7" stroke="#9a9a9a" stroke-width="1"/><line x1="871.5" y1="337.7" x2="866" y2="337.7" stroke="#9a9a9a" stroke-width="1"/><line x1="280" y1="368" x2="285.5" y2="368" stroke="#9a9a9a" stroke-width="1"/><line x1="871.5" y1="368" x2="866" y2="368" stroke="#9a9a9a" stroke-width="1"/></g><g clip-path="url(#ca)"><path d="M280.0 335.3C282.1 335.8 286.5 337.0 292.3 338.4C298.1 339.8 307.2 341.9 314.6 343.5C322.0 345.1 329.5 346.7 336.9 348.0C344.3 349.3 354.0 350.6 359.2 351.3C364.4 352.0 364.4 351.9 368.1 352.0C371.8 352.1 375.6 352.4 381.5 351.8C387.4 351.2 396.3 350.0 403.7 348.4C411.1 346.8 418.6 344.5 426.0 342.4C433.4 340.3 441.6 337.6 448.3 335.7C455.0 333.8 462.0 332.1 466.2 330.8C470.4 329.6 471.7 329.4 473.5 328.2C475.3 327.0 476.1 325.3 477.0 323.5C477.9 321.8 478.0 319.1 478.8 317.7C479.6 316.3 480.4 315.6 481.7 314.8C482.9 314.0 484.9 313.6 486.3 313.0C487.8 312.4 489.2 312.2 490.4 311.3C491.6 310.4 492.1 308.5 493.4 307.8C494.7 307.1 496.4 307.0 498.0 307.0C499.6 307.0 501.5 307.2 502.7 307.8C503.9 308.4 504.0 309.8 505.0 310.7C506.0 311.6 507.0 312.2 508.5 313.0C510.0 313.8 512.4 314.4 513.8 315.4C515.2 316.4 515.9 317.1 516.7 318.9C517.5 320.6 517.7 324.0 518.5 325.9C519.3 327.8 519.9 328.7 521.4 330.0C522.9 331.3 525.8 332.1 527.2 333.5C528.7 334.9 529.3 336.5 530.1 338.7C530.9 340.9 531.0 344.8 531.9 346.9C532.8 349.0 533.9 350.3 535.4 351.6C536.9 352.9 539.2 353.1 540.6 354.5C542.0 355.9 542.7 358.1 543.6 359.7C544.5 361.3 544.5 362.7 545.9 363.8C547.3 364.9 549.6 365.6 551.7 366.2C553.8 366.8 556.4 367.2 558.7 367.3C561.1 367.4 564.0 367.4 565.8 366.7C567.6 366.0 568.3 364.6 569.3 363.2C570.3 361.8 570.4 359.3 571.6 358.0C572.8 356.7 574.9 356.2 576.3 355.6C577.6 355.0 578.8 355.8 579.7 354.5C580.7 353.3 581.2 350.4 582.0 348.1C582.8 345.8 583.3 342.4 584.3 340.5C585.3 338.6 586.3 338.2 587.8 337.0C589.3 335.8 591.7 335.2 593.1 333.5C594.5 331.8 595.2 329.1 596.0 327.0C596.8 324.9 596.8 322.2 597.8 320.6C598.8 319.1 600.4 318.5 601.9 317.7C603.4 316.9 605.3 316.8 606.5 315.9C607.7 315.0 608.1 313.6 608.9 312.4C609.7 311.2 610.0 309.7 611.2 308.9C612.4 308.1 614.1 307.6 615.9 307.4C617.6 307.2 620.0 307.4 621.7 307.8C623.5 308.2 624.6 309.1 626.4 309.8C628.1 310.5 630.8 311.0 632.2 311.9C633.7 312.8 634.3 313.9 635.1 315.4C635.9 316.8 636.0 319.2 636.9 320.6C637.8 322.1 638.8 322.8 640.4 324.1C642.0 325.4 644.8 326.6 646.2 328.2C647.6 329.8 648.0 332.1 648.6 334.0C649.2 335.9 649.1 338.3 649.7 339.9C650.3 341.5 650.7 342.2 652.1 343.4C653.5 344.6 656.4 345.5 657.9 346.9C659.4 348.3 660.4 349.7 661.4 351.6C662.4 353.6 662.5 356.9 663.7 358.6C664.9 360.4 666.5 361.2 668.4 362.1C670.3 363.0 672.9 363.6 675.4 363.8C677.9 364.0 680.1 363.5 683.4 363.4C686.7 363.3 691.1 363.4 695.0 362.9C698.9 362.4 701.6 362.0 706.7 360.6C711.8 359.2 719.6 356.5 725.4 354.3C731.2 352.1 735.1 350.5 741.7 347.7C748.3 344.9 757.3 341.3 765.1 337.7C772.9 334.1 780.6 329.8 788.4 326.2C796.2 322.6 805.9 318.4 811.8 316.2C817.6 313.9 818.8 313.5 823.5 312.7C828.2 311.9 834.0 311.1 839.8 311.1C845.6 311.1 853.2 311.9 858.5 312.7C863.8 313.5 869.3 315.6 871.5 316.2" fill="none" stroke="#0072bd" stroke-width="3" stroke-linejoin="round"/><path d="M280.0 328.6C282.1 329.6 287.3 331.7 292.3 334.6C297.3 337.5 303.1 341.9 310.1 345.8C317.2 349.7 326.4 354.8 334.6 358.0C342.8 361.2 352.1 363.8 359.2 365.2C366.3 366.6 372.6 366.4 377.0 366.5C381.4 366.6 381.4 366.7 385.9 365.8C390.3 364.9 397.0 363.6 403.7 361.4C410.4 359.2 418.6 356.2 426.0 352.4C433.4 348.6 441.6 342.5 448.3 338.4C455.0 334.3 461.3 330.5 466.2 327.9C471.1 325.3 474.3 325.8 477.6 323.0C480.9 320.2 483.1 314.8 485.8 311.3C488.5 307.8 491.5 304.4 493.9 301.9C496.3 299.4 498.5 297.5 500.4 296.1C502.3 294.7 503.1 294.2 505.0 293.4C506.9 292.6 510.1 291.7 512.0 291.4C514.0 291.1 515.0 291.3 516.7 291.8C518.5 292.3 520.5 293.3 522.5 294.3C524.5 295.3 525.9 295.9 528.4 297.8C530.9 299.8 535.0 302.8 537.7 306.0C540.4 309.2 542.2 313.7 544.7 317.1C547.2 320.5 550.4 322.9 552.9 326.5C555.4 330.1 557.6 335.0 559.9 338.7C562.2 342.4 564.6 345.1 566.9 348.6C569.2 352.1 571.4 356.4 573.9 359.7C576.4 363.0 579.9 366.1 582.0 368.5C584.1 370.9 585.1 372.7 586.7 374.3C588.4 375.9 590.0 377.1 591.9 378.4C593.8 379.7 596.6 381.1 598.4 381.9C600.1 382.6 600.6 382.8 602.4 382.9C604.1 383.0 606.6 383.0 608.9 382.5C611.1 382.0 613.2 381.4 615.9 379.8C618.6 378.2 622.2 375.8 625.2 372.8C628.2 369.9 631.3 365.6 634.0 362.1C636.7 358.7 639.2 355.7 641.6 352.1C644.0 348.6 646.3 344.3 648.6 340.8C650.9 337.3 653.3 334.7 655.6 331.1C657.9 327.5 659.5 321.9 662.6 319.1C665.7 316.3 670.1 315.7 674.3 314.2C678.5 312.7 682.6 311.1 688.0 309.9C693.4 308.7 701.3 307.3 706.7 306.9C712.2 306.5 715.6 307.0 720.7 307.6C725.8 308.2 732.4 309.2 737.1 310.4C741.8 311.6 744.0 312.9 748.7 315.0C753.4 317.1 759.7 320.1 765.1 323.2C770.5 326.3 776.7 330.8 781.4 333.7C786.1 336.6 788.8 337.8 793.1 340.3C797.4 342.8 802.0 345.9 807.1 348.9C812.2 351.9 818.4 355.7 823.5 358.2C828.6 360.7 832.5 362.5 837.5 364.1C842.5 365.7 848.1 367.2 853.8 368.0C859.5 368.8 868.5 368.8 871.5 368.9" fill="none" stroke="#808080" stroke-width="3" stroke-dasharray="12.3 13.55" stroke-dashoffset="1.69"/></g><clipPath id="ca"><rect x="280" y="287.7" width="591.5" height="99.90"/></clipPath><rect x="280" y="288.7" width="591.5" height="97.90" fill="none" stroke="#b4b4b4" stroke-width="1.6"/><text x="271.5" y="314.4" text-anchor="end" font-size="26" font-family="Liberation Serif">1</text><text x="271.5" y="344.7" text-anchor="end" font-size="26" font-family="Liberation Serif">0</text><text x="271.5" y="375" text-anchor="end" font-size="26" font-family="Liberation Serif">1</text><line x1="241.2" x2="256.5" y1="369.5" y2="369.5" stroke="#000" stroke-width="1.3"/><text x="477" y="408.1" text-anchor="middle" font-size="26" font-family="Liberation Serif">0</text><text x="674.66" y="408.1" text-anchor="middle" font-size="26" font-family="Liberation Serif" font-style="italic">L</text><text x="576.5" y="418.6" text-anchor="middle" font-size="29" font-family="Liberation Serif" font-style="italic">x</text><g><line x1="346.71" y1="734.7" x2="346.71" y2="833.5" stroke="#f5f5f5" stroke-width="1"/><line x1="412.92" y1="734.7" x2="412.92" y2="833.5" stroke="#f5f5f5" stroke-width="1"/><line x1="479.13" y1="734.7" x2="479.13" y2="833.5" stroke="#f5f5f5" stroke-width="1"/><line x1="545.34" y1="734.7" x2="545.34" y2="833.5" stroke="#f5f5f5" stroke-width="1"/><line x1="611.55" y1="734.7" x2="611.55" y2="833.5" stroke="#f5f5f5" stroke-width="1"/><line x1="677.76" y1="734.7" x2="677.76" y2="833.5" stroke="#f5f5f5" stroke-width="1"/><line x1="743.97" y1="734.7" x2="743.97" y2="833.5" stroke="#f5f5f5" stroke-width="1"/><line x1="810.18" y1="734.7" x2="810.18" y2="833.5" stroke="#f5f5f5" stroke-width="1"/><line x1="280.5" y1="739.30" x2="876.4" y2="739.30" stroke="#f5f5f5" stroke-width="1"/><line x1="280.5" y1="761.7" x2="876.4" y2="761.7" stroke="#f5f5f5" stroke-width="1"/><line x1="280.5" y1="784.1" x2="876.4" y2="784.1" stroke="#f5f5f5" stroke-width="1"/><line x1="280.5" y1="806.5" x2="876.4" y2="806.5" stroke="#f5f5f5" stroke-width="1"/><line x1="280.5" y1="828.9" x2="876.4" y2="828.9" stroke="#f5f5f5" stroke-width="1"/><line x1="346.71" y1="734.7" x2="346.71" y2="740.2" stroke="#9a9a9a" stroke-width="1"/><line x1="346.71" y1="833.5" x2="346.71" y2="828" stroke="#9a9a9a" stroke-width="1"/><line x1="412.92" y1="734.7" x2="412.92" y2="740.2" stroke="#9a9a9a" stroke-width="1"/><line x1="412.92" y1="833.5" x2="412.92" y2="828" stroke="#9a9a9a" stroke-width="1"/><line x1="479.13" y1="734.7" x2="479.13" y2="740.2" stroke="#9a9a9a" stroke-width="1"/><line x1="479.13" y1="833.5" x2="479.13" y2="828" stroke="#9a9a9a" stroke-width="1"/><line x1="545.34" y1="734.7" x2="545.34" y2="740.2" stroke="#9a9a9a" stroke-width="1"/><line x1="545.34" y1="833.5" x2="545.34" y2="828" stroke="#9a9a9a" stroke-width="1"/><line x1="611.55" y1="734.7" x2="611.55" y2="740.2" stroke="#9a9a9a" stroke-width="1"/><line x1="611.55" y1="833.5" x2="611.55" y2="828" stroke="#9a9a9a" stroke-width="1"/><line x1="677.76" y1="734.7" x2="677.76" y2="740.2" stroke="#9a9a9a" stroke-width="1"/><line x1="677.76" y1="833.5" x2="677.76" y2="828" stroke="#9a9a9a" stroke-width="1"/><line x1="743.97" y1="734.7" x2="743.97" y2="740.2" stroke="#9a9a9a" stroke-width="1"/><line x1="743.97" y1="833.5" x2="743.97" y2="828" stroke="#9a9a9a" stroke-width="1"/><line x1="810.18" y1="734.7" x2="810.18" y2="740.2" stroke="#9a9a9a" stroke-width="1"/><line x1="810.18" y1="833.5" x2="810.18" y2="828" stroke="#9a9a9a" stroke-width="1"/><line x1="280.5" y1="739.30" x2="286" y2="739.30" stroke="#9a9a9a" stroke-width="1"/><line x1="876.4" y1="739.30" x2="870.9" y2="739.30" stroke="#9a9a9a" stroke-width="1"/><line x1="280.5" y1="761.7" x2="286" y2="761.7" stroke="#9a9a9a" stroke-width="1"/><line x1="876.4" y1="761.7" x2="870.9" y2="761.7" stroke="#9a9a9a" stroke-width="1"/><line x1="280.5" y1="784.1" x2="286" y2="784.1" stroke="#9a9a9a" stroke-width="1"/><line x1="876.4" y1="784.1" x2="870.9" y2="784.1" stroke="#9a9a9a" stroke-width="1"/><line x1="280.5" y1="806.5" x2="286" y2="806.5" stroke="#9a9a9a" stroke-width="1"/><line x1="876.4" y1="806.5" x2="870.9" y2="806.5" stroke="#9a9a9a" stroke-width="1"/><line x1="280.5" y1="828.9" x2="286" y2="828.9" stroke="#9a9a9a" stroke-width="1"/><line x1="876.4" y1="828.9" x2="870.9" y2="828.9" stroke="#9a9a9a" stroke-width="1"/></g><g clip-path="url(#cb)"><path d="M280.5 782.4C284.6 783.3 297.0 786.1 305.0 787.6C313.0 789.1 320.6 790.4 328.4 791.5C336.2 792.6 344.7 793.5 351.7 794.1C358.7 794.7 364.5 794.9 370.4 795.0C376.3 795.1 380.2 795.2 386.8 794.6C393.4 794.0 402.3 792.8 410.1 791.5C417.9 790.3 425.7 788.7 433.5 787.1C441.3 785.5 450.7 783.0 456.8 781.7C462.9 780.4 467.0 780.0 470.0 779.4C473.0 778.8 473.3 778.7 474.7 778.0C476.1 777.3 477.2 776.7 478.2 775.3C479.2 773.9 479.5 771.0 480.5 769.5C481.5 768.0 482.4 767.2 484.0 766.5C485.6 765.8 488.1 766.1 489.9 765.4C491.6 764.7 492.9 763.1 494.5 762.4C496.1 761.7 497.6 761.3 499.2 761.3C500.8 761.3 503.0 761.5 504.4 762.1C505.8 762.7 506.1 764.1 507.4 764.8C508.7 765.5 510.4 765.8 512.0 766.5C513.6 767.2 516.0 767.7 517.3 768.9C518.6 770.1 518.8 772.0 519.6 773.5C520.4 775.0 520.7 776.5 522.0 777.6C523.3 778.7 525.7 779.1 527.2 780.0C528.8 780.9 530.2 781.3 531.3 782.9C532.4 784.5 532.7 788.1 533.6 789.9C534.5 791.6 535.3 792.5 536.6 793.4C537.9 794.3 539.9 794.3 541.2 795.1C542.6 795.9 543.6 796.8 544.7 798.1C545.8 799.4 546.5 801.6 547.7 802.7C548.9 803.8 549.9 804.0 551.7 804.5C553.5 805.0 556.4 805.6 558.7 805.7C561.1 805.8 563.8 805.6 565.8 805.3C567.8 805.0 569.2 804.7 570.4 803.9C571.6 803.1 571.8 801.4 572.8 800.4C573.8 799.4 575.1 798.6 576.3 798.1C577.4 797.6 578.6 798.0 579.7 797.5C580.9 797.0 582.1 796.4 583.2 795.1C584.3 793.8 585.3 791.5 586.1 789.9C586.9 788.3 586.7 787.0 587.8 785.8C588.9 784.6 591.0 783.8 592.5 782.9C594.0 782.0 595.5 781.9 596.6 780.5C597.7 779.1 598.1 776.4 598.9 774.7C599.7 773.1 600.0 771.6 601.3 770.6C602.6 769.6 604.9 769.5 606.5 768.9C608.1 768.3 609.8 768.1 611.2 767.1C612.6 766.1 613.2 763.9 614.7 763.0C616.3 762.1 618.8 762.0 620.5 761.9C622.3 761.8 623.6 762.0 625.2 762.4C626.8 762.8 628.1 763.7 629.9 764.2C631.6 764.7 634.3 764.6 635.7 765.4C637.2 766.2 637.7 767.6 638.6 768.9C639.5 770.2 639.9 772.0 641.0 773.0C642.1 774.0 643.6 773.9 645.1 774.7C646.6 775.5 648.5 776.1 649.7 777.6C650.9 779.1 651.3 782.3 652.1 784.0C652.9 785.8 653.0 787.0 654.4 788.1C655.8 789.2 658.7 789.7 660.2 790.5C661.8 791.3 662.7 791.5 663.7 792.8C664.7 794.1 665.3 796.7 666.1 798.1C666.9 799.5 667.0 800.2 668.4 801.0C669.8 801.8 672.3 802.3 674.3 802.7C676.3 803.1 677.1 803.3 680.1 803.3C683.1 803.3 687.3 803.3 692.3 802.7C697.3 802.1 704.1 801.1 710.1 799.8C716.1 798.5 721.7 796.9 728.0 794.9C734.3 792.9 741.0 790.2 748.0 787.7C755.0 785.2 762.9 782.2 770.3 779.7C777.7 777.2 785.2 774.7 792.6 772.6C800.0 770.5 807.5 768.4 814.9 767.0C822.3 765.6 830.9 764.6 837.2 764.1C843.5 763.6 848.0 764.0 852.8 764.3C857.6 764.6 862.3 765.2 866.2 765.9C870.1 766.6 874.5 768.1 876.2 768.6" fill="none" stroke="#0072bd" stroke-width="3" stroke-linejoin="round"/><path d="M280.5 777.0C282.6 778.0 287.4 780.4 293.4 782.9C299.4 785.4 308.9 789.5 316.7 792.2C324.5 794.9 332.3 797.4 340.1 799.2C347.9 801.0 356.4 802.4 363.4 803.2C370.4 804.0 377.0 804.1 382.1 804.1C387.2 804.1 388.4 804.0 393.8 803.2C399.3 802.4 407.4 801.2 414.8 799.2C422.2 797.2 430.3 794.2 438.1 791.1C445.9 788.0 455.6 783.0 461.5 780.5C467.4 778.0 470.4 777.2 473.2 775.9C476.0 774.6 476.4 774.4 478.2 772.5C480.0 770.6 482.1 768.1 484.0 764.8C485.9 761.5 487.5 756.2 489.9 752.5C492.3 748.8 496.1 744.7 498.6 742.6C501.1 740.5 502.9 739.9 505.0 739.7C507.1 739.5 508.4 739.5 510.9 741.4C513.4 743.3 517.7 747.3 520.2 750.8C522.7 754.3 524.1 758.5 526.1 762.4C528.1 766.3 530.7 770.1 532.5 774.1C534.3 778.1 535.4 782.5 537.1 786.4C538.9 790.3 541.1 793.6 543.0 797.5C544.9 801.4 546.1 805.9 548.2 809.7C550.3 813.5 553.6 817.6 555.8 820.3C557.9 823.0 559.3 824.9 561.1 826.1C563.0 827.4 565.0 827.9 566.9 827.8C568.8 827.7 571.1 826.6 572.8 825.5C574.5 824.4 575.2 823.9 577.3 821.4C579.4 818.9 583.2 813.9 585.5 810.3C587.8 806.7 589.5 803.7 591.3 799.8C593.0 795.9 594.1 791.0 596.0 787.0C597.9 783.0 600.6 779.9 602.4 775.9C604.1 771.9 604.6 766.8 606.5 763.0C608.4 759.2 610.9 756.5 613.5 753.1C616.1 749.7 619.9 744.7 622.3 742.6C624.7 740.5 626.1 740.5 628.1 740.3C630.1 740.1 631.6 739.5 634.0 741.4C636.4 743.3 640.1 748.5 642.7 751.9C645.3 755.3 647.7 758.1 649.7 761.9C651.8 765.7 653.0 770.7 655.0 774.7C657.0 778.7 659.4 781.9 661.4 785.8C663.4 789.7 664.0 795.4 666.7 798.1C669.4 800.8 672.8 801.0 677.8 802.2C682.8 803.4 690.7 804.7 696.8 805.4C702.9 806.1 709.4 806.6 714.6 806.5C719.8 806.4 722.4 806.0 728.0 804.9C733.6 803.8 740.6 802.0 748.0 799.8C755.4 797.6 764.7 794.5 772.5 791.5C780.3 788.5 787.4 784.7 794.8 781.5C802.2 778.3 810.0 774.9 817.1 772.1C824.2 769.3 831.3 766.4 837.2 764.8C843.2 763.2 848.0 763.2 852.8 762.6C857.6 762.0 862.3 761.5 866.2 761.4C870.1 761.3 874.5 761.8 876.2 761.9" fill="none" stroke="#808080" stroke-width="3" stroke-dasharray="12.5 13.8" stroke-dashoffset="4.58"/></g><clipPath id="cb"><rect x="280.5" y="733.7" width="595.9" height="100.79"/></clipPath><rect x="280.5" y="734.7" width="595.9" height="98.79" fill="none" stroke="#b4b4b4" stroke-width="1.6"/><text x="271.5" y="746.30" text-anchor="end" font-size="26" font-family="Liberation Serif">2</text><text x="271.5" y="791.1" text-anchor="end" font-size="26" font-family="Liberation Serif">0</text><text x="271.5" y="835.9" text-anchor="end" font-size="26" font-family="Liberation Serif">2</text><line x1="241.2" x2="256.5" y1="830.4" y2="830.4" stroke="#000" stroke-width="1.3"/><text x="479.1" y="855" text-anchor="middle" font-size="26" font-family="Liberation Serif">0</text><text x="678.23" y="855" text-anchor="middle" font-size="26" font-family="Liberation Serif" font-style="italic">L</text><text x="578.6" y="865.5" text-anchor="middle" font-size="29" font-family="Liberation Serif" font-style="italic">x</text><g><line x1="345.53" y1="1182.4" x2="345.53" y2="1281" stroke="#f5f5f5" stroke-width="1"/><line x1="411.66" y1="1182.4" x2="411.66" y2="1281" stroke="#f5f5f5" stroke-width="1"/><line x1="477.79" y1="1182.4" x2="477.79" y2="1281" stroke="#f5f5f5" stroke-width="1"/><line x1="543.93" y1="1182.4" x2="543.93" y2="1281" stroke="#f5f5f5" stroke-width="1"/><line x1="610.06" y1="1182.4" x2="610.06" y2="1281" stroke="#f5f5f5" stroke-width="1"/><line x1="676.2" y1="1182.4" x2="676.2" y2="1281" stroke="#f5f5f5" stroke-width="1"/><line x1="742.33" y1="1182.4" x2="742.33" y2="1281" stroke="#f5f5f5" stroke-width="1"/><line x1="808.46" y1="1182.4" x2="808.46" y2="1281" stroke="#f5f5f5" stroke-width="1"/><line x1="279.4" y1="1190.4" x2="874.6" y2="1190.4" stroke="#f5f5f5" stroke-width="1"/><line x1="279.4" y1="1231.5" x2="874.6" y2="1231.5" stroke="#f5f5f5" stroke-width="1"/><line x1="279.4" y1="1272.6" x2="874.6" y2="1272.6" stroke="#f5f5f5" stroke-width="1"/><line x1="345.53" y1="1182.4" x2="345.53" y2="1187.9" stroke="#9a9a9a" stroke-width="1"/><line x1="345.53" y1="1281" x2="345.53" y2="1275.5" stroke="#9a9a9a" stroke-width="1"/><line x1="411.66" y1="1182.4" x2="411.66" y2="1187.9" stroke="#9a9a9a" stroke-width="1"/><line x1="411.66" y1="1281" x2="411.66" y2="1275.5" stroke="#9a9a9a" stroke-width="1"/><line x1="477.79" y1="1182.4" x2="477.79" y2="1187.9" stroke="#9a9a9a" stroke-width="1"/><line x1="477.79" y1="1281" x2="477.79" y2="1275.5" stroke="#9a9a9a" stroke-width="1"/><line x1="543.93" y1="1182.4" x2="543.93" y2="1187.9" stroke="#9a9a9a" stroke-width="1"/><line x1="543.93" y1="1281" x2="543.93" y2="1275.5" stroke="#9a9a9a" stroke-width="1"/><line x1="610.06" y1="1182.4" x2="610.06" y2="1187.9" stroke="#9a9a9a" stroke-width="1"/><line x1="610.06" y1="1281" x2="610.06" y2="1275.5" stroke="#9a9a9a" stroke-width="1"/><line x1="676.2" y1="1182.4" x2="676.2" y2="1187.9" stroke="#9a9a9a" stroke-width="1"/><line x1="676.2" y1="1281" x2="676.2" y2="1275.5" stroke="#9a9a9a" stroke-width="1"/><line x1="742.33" y1="1182.4" x2="742.33" y2="1187.9" stroke="#9a9a9a" stroke-width="1"/><line x1="742.33" y1="1281" x2="742.33" y2="1275.5" stroke="#9a9a9a" stroke-width="1"/><line x1="808.46" y1="1182.4" x2="808.46" y2="1187.9" stroke="#9a9a9a" stroke-width="1"/><line x1="808.46" y1="1281" x2="808.46" y2="1275.5" stroke="#9a9a9a" stroke-width="1"/><line x1="279.4" y1="1190.4" x2="284.9" y2="1190.4" stroke="#9a9a9a" stroke-width="1"/><line x1="874.6" y1="1190.4" x2="869.1" y2="1190.4" stroke="#9a9a9a" stroke-width="1"/><line x1="279.4" y1="1231.5" x2="284.9" y2="1231.5" stroke="#9a9a9a" stroke-width="1"/><line x1="874.6" y1="1231.5" x2="869.1" y2="1231.5" stroke="#9a9a9a" stroke-width="1"/><line x1="279.4" y1="1272.6" x2="284.9" y2="1272.6" stroke="#9a9a9a" stroke-width="1"/><line x1="874.6" y1="1272.6" x2="869.1" y2="1272.6" stroke="#9a9a9a" stroke-width="1"/></g><g clip-path="url(#cc)"><path d="M279.4 1227.8C283.7 1229.6 296.8 1235.4 305.0 1238.4C313.2 1241.4 320.6 1243.6 328.4 1245.6C336.2 1247.6 345.1 1249.3 351.7 1250.3C358.3 1251.3 362.3 1251.4 368.1 1251.4C374.0 1251.4 379.8 1251.3 386.8 1250.3C393.8 1249.3 402.3 1247.8 410.1 1245.6C417.9 1243.4 425.7 1240.3 433.5 1237.2C441.3 1234.1 450.7 1229.4 456.8 1226.9C462.9 1224.4 467.0 1223.4 470.0 1222.1C473.0 1220.8 473.4 1220.7 474.7 1219.2C476.0 1217.8 476.8 1215.8 477.6 1213.4C478.4 1211.0 478.4 1206.8 479.3 1204.6C480.2 1202.3 481.2 1201.2 482.8 1199.9C484.4 1198.6 487.0 1198.3 488.7 1197.0C490.4 1195.7 491.4 1192.9 492.8 1191.8C494.3 1190.7 495.8 1190.6 497.4 1190.6C499.0 1190.6 501.3 1190.9 502.7 1191.8C504.1 1192.7 504.4 1194.6 505.6 1195.9C506.8 1197.2 508.1 1198.3 509.7 1199.4C511.3 1200.5 514.1 1200.8 515.5 1202.3C516.9 1203.8 517.2 1205.8 517.9 1208.1C518.6 1210.4 518.7 1214.1 519.6 1216.3C520.5 1218.5 521.6 1220.0 523.1 1221.5C524.6 1223.0 527.2 1223.4 528.4 1225.0C529.6 1226.6 529.5 1228.2 530.1 1230.9C530.7 1233.6 531.0 1238.5 531.9 1241.4C532.8 1244.3 533.9 1246.6 535.4 1248.4C536.9 1250.3 539.2 1250.8 540.6 1252.5C542.0 1254.3 542.6 1256.6 543.6 1258.9C544.6 1261.2 545.1 1264.7 546.5 1266.5C547.9 1268.3 549.7 1269.1 551.7 1270.0C553.7 1270.9 556.4 1271.6 558.7 1271.8C561.1 1272.0 564.0 1271.8 565.8 1271.2C567.6 1270.6 568.3 1270.0 569.3 1268.3C570.3 1266.6 570.6 1263.0 571.6 1261.2C572.6 1259.4 573.5 1259.0 575.0 1257.7C576.5 1256.5 579.4 1255.3 580.8 1253.7C582.2 1252.2 582.6 1250.8 583.2 1248.4C583.8 1246.0 583.7 1241.6 584.3 1239.1C584.9 1236.6 585.3 1235.0 586.7 1233.2C588.1 1231.4 591.0 1230.0 592.5 1228.5C594.0 1227.0 594.7 1226.0 595.4 1223.9C596.1 1221.8 596.1 1218.1 596.6 1215.7C597.1 1213.3 597.1 1211.3 598.4 1209.3C599.7 1207.3 602.5 1205.4 604.2 1204.0C606.0 1202.6 607.8 1202.4 608.9 1201.1C610.0 1199.8 609.8 1197.5 610.6 1195.9C611.4 1194.4 612.0 1192.7 613.5 1191.8C615.0 1190.9 617.6 1190.7 619.4 1190.6C621.1 1190.5 622.6 1190.8 624.0 1191.2C625.4 1191.7 625.9 1192.5 627.5 1193.3C629.1 1194.1 631.9 1194.9 633.4 1195.9C634.9 1196.9 635.6 1197.7 636.3 1199.4C637.0 1201.2 636.8 1204.3 637.5 1206.4C638.2 1208.5 638.9 1210.6 640.4 1212.2C641.9 1213.8 644.7 1214.8 646.2 1216.3C647.7 1217.8 648.5 1219.3 649.2 1221.5C649.9 1223.7 649.7 1227.0 650.3 1229.7C650.9 1232.4 651.6 1235.9 652.7 1237.9C653.8 1240.0 655.3 1240.8 656.7 1242.0C658.2 1243.2 660.3 1243.5 661.4 1244.9C662.5 1246.4 662.6 1248.4 663.2 1250.7C663.8 1253.0 664.0 1256.8 664.9 1258.9C665.8 1261.1 666.4 1262.4 668.4 1263.6C670.4 1264.8 673.4 1265.4 676.6 1265.9C679.8 1266.4 683.3 1267.0 687.8 1266.7C692.3 1266.4 697.1 1266.0 703.4 1264.1C709.7 1262.2 718.3 1258.8 725.7 1255.1C733.1 1251.4 740.6 1246.4 748.0 1241.8C755.4 1237.2 762.9 1232.3 770.3 1227.7C777.7 1223.1 785.2 1218.3 792.6 1213.9C800.0 1209.6 807.5 1204.5 814.9 1201.6C822.3 1198.7 831.6 1197.3 837.2 1196.5C842.8 1195.7 843.8 1195.9 848.3 1196.5C852.8 1197.1 859.5 1198.9 863.9 1200.1C868.3 1201.3 872.8 1203.3 874.6 1203.9" fill="none" stroke="#0072bd" stroke-width="3" stroke-linejoin="round"/><path d="M279.4 1230.9C283.7 1232.5 296.8 1237.6 305.0 1240.2C313.2 1242.8 320.2 1244.8 328.4 1246.5C336.6 1248.2 347.5 1249.5 354.1 1250.3C360.7 1251.1 362.7 1251.5 368.1 1251.2C373.6 1250.9 379.8 1249.9 386.8 1248.4C393.8 1246.9 402.3 1244.6 410.1 1242.1C417.9 1239.6 425.7 1236.0 433.5 1233.2C441.3 1230.4 450.2 1227.3 456.8 1225.0C463.4 1222.7 470.0 1220.5 473.2 1219.2C476.4 1217.9 474.6 1219.0 475.8 1216.9C477.0 1214.8 478.1 1210.0 480.5 1206.4C482.9 1202.8 487.7 1197.3 490.4 1195.3C493.1 1193.3 495.1 1194.2 496.9 1194.1C498.6 1194.0 498.5 1193.0 500.9 1194.7C503.3 1196.4 508.7 1200.9 511.5 1204.0C514.3 1207.1 515.7 1209.7 517.9 1213.4C520.1 1217.1 522.9 1222.3 524.9 1226.2C526.9 1230.1 528.0 1232.6 530.1 1236.7C532.2 1240.8 535.5 1247.0 537.7 1250.7C540.0 1254.4 540.9 1255.9 543.6 1258.9C546.3 1261.9 551.4 1267.0 554.1 1268.8C556.8 1270.5 558.0 1269.7 559.9 1269.4C561.8 1269.1 562.7 1269.4 565.2 1267.1C567.7 1264.8 572.5 1258.9 575.1 1255.4C577.7 1251.9 578.7 1249.8 580.8 1246.1C582.9 1242.4 585.6 1236.9 587.8 1233.2C589.9 1229.5 591.6 1227.7 593.7 1223.9C595.9 1220.1 598.4 1214.1 600.7 1210.4C603.0 1206.7 605.8 1204.2 607.7 1201.7C609.7 1199.2 610.5 1196.7 612.4 1195.3C614.3 1193.9 616.7 1193.1 619.4 1193.5C622.1 1193.9 625.6 1195.0 628.7 1197.6C631.8 1200.2 635.6 1205.7 638.1 1209.3C640.6 1212.9 641.8 1215.2 643.9 1219.2C646.0 1223.2 648.9 1229.4 650.9 1233.2C652.9 1237.0 653.5 1238.5 655.6 1242.0C657.7 1245.5 662.0 1250.7 663.7 1254.2C665.5 1257.7 664.7 1261.3 666.1 1263.0C667.5 1264.8 669.4 1264.3 671.9 1264.7C674.4 1265.1 677.7 1265.2 681.1 1265.2C684.5 1265.2 687.5 1265.6 692.3 1264.7C697.1 1263.8 703.4 1262.3 710.1 1259.6C716.8 1256.9 725.0 1252.6 732.4 1248.5C739.8 1244.4 747.3 1239.8 754.7 1235.1C762.1 1230.4 769.6 1225.1 777.0 1220.6C784.4 1216.1 791.9 1211.8 799.3 1208.3C806.7 1204.8 815.3 1201.4 821.6 1199.4C827.9 1197.4 832.0 1196.7 837.2 1196.5C842.4 1196.3 846.6 1196.9 852.8 1198.3C859.0 1199.7 871.0 1203.9 874.6 1205.0" fill="none" stroke="#000" stroke-width="3.4" stroke-dasharray="12.7 13.15" stroke-dashoffset="0.68"/></g><clipPath id="cc"><rect x="279.4" y="1181.4" width="595.2" height="100.59"/></clipPath><rect x="279.4" y="1182.4" width="595.2" height="98.59" fill="none" stroke="#b4b4b4" stroke-width="1.6"/><text x="271.5" y="1197.4" text-anchor="end" font-size="26" font-family="Liberation Serif">1</text><text x="271.5" y="1238.5" text-anchor="end" font-size="26" font-family="Liberation Serif">0</text><text x="271.5" y="1279.6" text-anchor="end" font-size="26" font-family="Liberation Serif">1</text><line x1="241.2" x2="256.5" y1="1274.1" y2="1274.1" stroke="#000" stroke-width="1.3"/><text x="477.8" y="1302.5" text-anchor="middle" font-size="26" font-family="Liberation Serif">0</text><text x="676.7" y="1302.5" text-anchor="middle" font-size="26" font-family="Liberation Serif" font-style="italic">L</text><text x="577.3" y="1313" text-anchor="middle" font-size="29" font-family="Liberation Serif" font-style="italic">x</text><line x1="480.4" y1="154.6" x2="480.4" y2="87" stroke="#000" stroke-width="1.3"/><line x1="479.79" y1="154" x2="556.8" y2="154" stroke="#000" stroke-width="1.3"/><path d="M480.4 83L483.2 88.6L480.4 87.8L477.59 88.6Z" fill="#000"/><path d="M560.8 154L555.19 156.7L556 154L555.19 151.3Z" fill="#000"/><text x="477" y="156.4" text-anchor="end" font-size="27.5" font-family="Liberation Serif">0</text><text x="464.4" y="92.5" font-size="24" font-family="Liberation Serif" font-style="italic">y</text><text x="553.3" y="147.5" font-size="24" font-family="Liberation Serif" font-style="italic">x</text><line x1="479.7" y1="604.1" x2="479.7" y2="535" stroke="#000" stroke-width="1.3"/><line x1="479.09" y1="603.5" x2="556.4" y2="603.5" stroke="#000" stroke-width="1.3"/><path d="M479.7 531L482.5 536.6L479.7 535.8L476.9 536.6Z" fill="#000"/><path d="M560.4 603.5L554.8 606.2L555.6 603.5L554.8 600.8Z" fill="#000"/><text x="476.3" y="605.9" text-anchor="end" font-size="27.5" font-family="Liberation Serif">0</text><text x="463.7" y="542" font-size="24" font-family="Liberation Serif" font-style="italic">y</text><text x="552.9" y="597" font-size="24" font-family="Liberation Serif" font-style="italic">x</text><line x1="478.7" y1="1048.89" x2="478.7" y2="981.3" stroke="#000" stroke-width="1.3"/><line x1="478.09" y1="1048.3" x2="555.7" y2="1048.3" stroke="#000" stroke-width="1.3"/><path d="M478.7 977.3L481.5 982.9L478.7 982.09L475.9 982.9Z" fill="#000"/><path d="M559.7 1048.3L554.1 1051L554.90 1048.3L554.1 1045.6Z" fill="#000"/><text x="475.3" y="1050.7" text-anchor="end" font-size="27.5" font-family="Liberation Serif">0</text><text x="462.7" y="986.8" font-size="24" font-family="Liberation Serif" font-style="italic">y</text><text x="552.2" y="1041.8" font-size="24" font-family="Liberation Serif" font-style="italic">x</text></g>
</svg>
<div class="t lbl" style="left:2px;top:-1.5px"><span class="pp">(</span><i>a</i><span class="pp">)</span></div>
<div class="t lbl" style="left:2px;top:445.5px"><span class="pp">(</span><i>b</i><span class="pp">)</span></div>
<div class="t lbl" style="left:2px;top:892.5px"><span class="pp">(</span><i>c</i><span class="pp">)</span></div>
<div class="t mdl" style="left:84px;top:68.8px">2-step SW model</div>
<div class="t mdl" style="left:84px;top:516px">First order model</div>
<div class="t mdl" style="left:69px;top:984.5px">Second order model</div>
<script>

const TAU=2*Math.PI;
function cl(x){return x<0?0:(x>1?1:x);}
function jet(v){v=cl(v);return [cl(1.5-Math.abs(4*v-3)),cl(1.5-Math.abs(4*v-2)),cl(1.5-Math.abs(4*v-1))];}
function sumTerms(T,X){let r=0,i=0;for(const t of T){const ph=t[1]*X+t[2];r+=t[0]*Math.cos(ph);i+=t[0]*Math.sin(ph);}return [r,i];}
function drawField(id,cfg){
  const cv=document.getElementById(id),W=cv.width,H=cv.height,ctx=cv.getContext('2d');
  const img=ctx.createImageData(W,H),d=img.data;
  const P=cfg.P,x0=cfg.x0,oy=cfg.oy,L=cfg.L;
  const cs=[],sn=[];
  for(let j=0;j<H;j++){const th=TAU*(j+0.5-oy)/P;cs.push(Math.cos(th));sn.push(Math.sin(th));}
  for(let i=0;i<W;i++){
    const X=i+0.5-x0;
    const Al=sumTerms(cfg.left,X),Am=sumTerms(cfg.mid,X),Ar=sumTerms(cfg.right,X);
    let A;
    const b0=cfg.b0,b1=cfg.b1;
    if(X<L/2){let w=b0>0?cl((X+b0)/(2*b0)):(X<0?0:1);w=w*w*(3-2*w);A=[Al[0]*(1-w)+Am[0]*w,Al[1]*(1-w)+Am[1]*w];}
    else{let w=b1>0?cl((X-L+b1)/(2*b1)):(X<L?0:1);w=w*w*(3-2*w);A=[Am[0]*(1-w)+Ar[0]*w,Am[1]*(1-w)+Ar[1]*w];}
    const off=cfg.off;
    for(let j=0;j<H;j++){
      const F=A[0]*cs[j]+A[1]*sn[j];
      let v=off+F; if(cfg.q){v=Math.round(v*cfg.q)/cfg.q;}
      const c=jet(v),k=(j*W+i)*4;
      d[k]=Math.round(c[0]*255);d[k+1]=Math.round(c[1]*255);d[k+2]=Math.round(c[2]*255);d[k+3]=255;
    }
  }
  ctx.putImageData(img,0,0);
}
const k1=TAU/316;
// panel a
(function(){
  const k2=TAU/182.6;
  drawField('fa',{P:264,x0:196.5,oy:140.5,L:185,b0:10,b1:10,off:0.505,q:40,
    left:[[0.16,k1,5.147],[0.018,-k1,-2.42]],
    mid:[[0.232,k2,-1.181],[0.05,-k2,2.133]],
    right:[[0.165,k1,-4.897]]});
})();
(function(){
  const k2=TAU/122.6;
  drawField('fb',{P:264,x0:197.2,oy:145.5,L:185,b0:2,b1:2,off:0.505,q:40,
    left:[[0.175,k1,4.922],[0.022,-k1,-2.623]],
    mid:[[0.285,k2,-1.334],[0.095,-k2,2.12]],
    right:[[0.17,k1,-1.96]]});
})();
(function(){
  const k2=TAU/121.5, k3=0.01843, kc=TAU/308;
  drawField('fc',{P:264,x0:195.9,oy:141.3,L:186,b0:0,b1:0,off:0.508,q:40,
    left:[[0.145,kc,-1.313],[0.145,-kc,-2.243]],
    mid:[[0.23,k2,-0.952],[0.1,-k2,3.118]],
    right:[[0.14,k3,-7.033]]});
})();
</script>
</body></html>
